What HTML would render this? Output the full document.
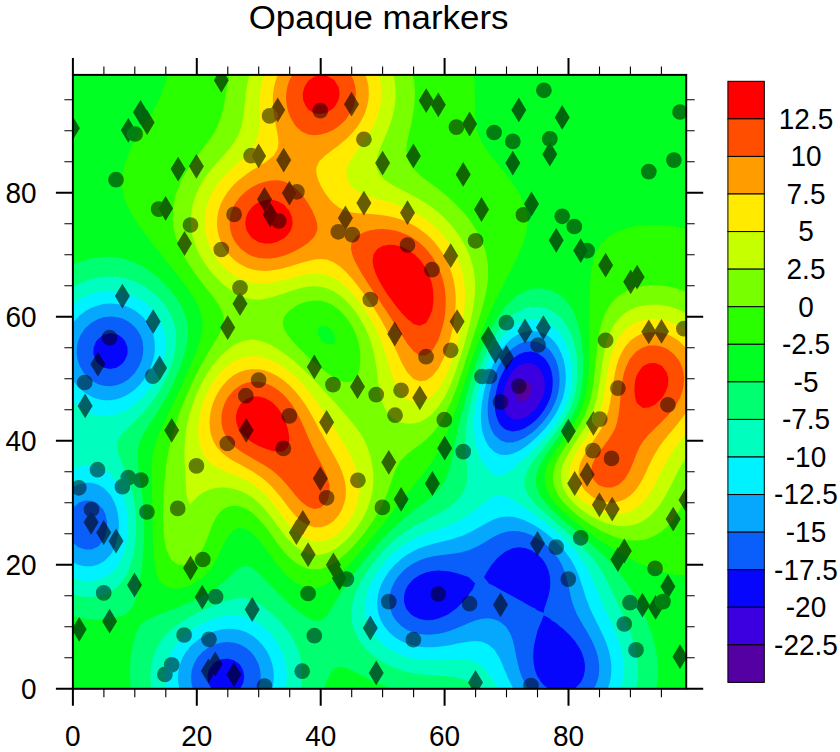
<!DOCTYPE html>
<html><head><meta charset="utf-8"><title>Opaque markers</title>
<style>html,body{margin:0;padding:0;background:#fff}svg{display:block}</style></head>
<body>
<svg width="840" height="752" viewBox="0 0 840 752">
<rect width="840" height="752" fill="#fff"/>
<g id="field" stroke="none">
<rect x="72.9" y="74.9" width="613.3" height="613.9" fill="#00ff71"/>
<path fill="#00ff23" d="M79.1 688.8L85.3 688.8L91.5 688.8L97.7 688.8L103.9 688.8L110.1 688.8L116.3 688.8L122.5 688.8L128.7 688.8L130.9 688.8L130.3 682.6L129.9 676.4L129.9 670.2L130.2 664.0L130.7 657.8L131.5 651.6L132.7 645.4L134.2 639.2L134.8 637.1L136.2 633.0L139.2 626.8L141.0 624.6L145.6 620.6L147.2 619.7L153.4 616.7L159.0 614.4L159.6 614.2L165.8 611.8L172.0 609.5L175.3 608.2L178.2 607.1L184.4 604.5L190.3 602.0L190.6 601.9L196.8 598.9L202.8 595.8L203.0 595.7L209.2 592.0L213.2 589.6L215.4 587.9L221.5 583.4L221.6 583.3L227.8 577.9L228.7 577.2L234.0 572.1L235.6 571.0L240.2 567.3L246.4 565.8L252.6 568.1L255.9 571.0L258.7 573.1L262.5 577.2L264.9 579.5L268.4 583.4L271.1 586.1L274.4 589.6L277.3 592.5L280.6 595.8L283.5 598.6L287.3 602.0L289.7 604.2L294.5 608.2L295.9 609.4L302.1 614.1L302.6 614.4L308.3 618.1L314.3 620.6L314.5 620.7L320.7 620.6L320.7 620.6L326.9 615.8L327.7 614.4L331.7 608.2L333.1 606.3L335.3 602.0L339.2 595.8L339.3 595.7L343.0 589.6L345.5 586.1L347.1 583.4L351.5 577.2L351.7 577.0L356.0 571.0L357.9 568.6L360.7 564.8L364.1 560.6L365.7 558.6L370.3 553.0L370.8 552.4L376.1 546.2L376.5 545.7L381.6 540.0L382.6 538.8L387.5 533.8L388.8 532.3L393.7 527.6L395.0 526.2L400.4 521.4L401.2 520.5L407.4 515.3L407.6 515.2L413.6 510.4L415.7 509.0L419.8 505.7L424.0 502.8L426.0 501.1L431.7 496.6L432.2 496.1L438.1 490.4L438.4 490.0L442.7 484.2L444.6 480.9L446.1 478.0L448.4 471.8L450.2 465.6L450.8 463.3L451.6 459.4L452.8 453.2L454.0 447.0L455.2 440.8L456.6 434.6L457.0 433.0L458.0 428.4L459.4 422.2L460.9 416.0L462.6 409.8L463.2 407.6L464.2 403.6L465.9 397.4L467.6 391.2L469.4 385.3L469.5 385.0L471.3 378.7L473.3 372.5L475.3 366.3L475.6 365.6L477.4 360.1L479.7 353.9L481.8 348.6L482.1 347.7L484.8 341.5L487.5 335.3L488.0 334.4L490.7 329.1L494.0 322.9L494.2 322.7L497.9 316.7L500.4 312.9L502.3 310.5L506.5 305.1L507.4 304.3L512.7 299.0L514.0 298.1L518.9 294.3L523.7 291.9L525.1 291.1L531.3 289.1L537.5 288.3L543.7 288.6L549.9 290.0L554.2 291.9L556.1 292.7L562.3 297.0L563.4 298.1L568.5 303.7L568.9 304.3L572.7 310.5L574.7 314.5L575.6 316.7L577.7 322.9L579.4 329.1L580.6 335.3L580.9 336.8L581.6 341.5L582.3 347.7L582.8 353.9L583.1 360.1L583.2 366.3L583.1 372.5L582.7 378.7L582.0 385.0L580.9 391.2L580.9 391.2L579.5 397.4L577.6 403.6L575.1 409.8L574.7 410.7L572.2 416.0L568.7 422.2L568.5 422.5L564.7 428.4L562.3 431.9L560.4 434.6L556.1 440.4L555.9 440.8L551.3 447.0L549.9 448.9L546.8 453.2L543.7 458.1L542.8 459.4L539.5 465.6L537.5 470.7L537.1 471.8L535.7 478.0L535.9 484.2L537.5 490.0L537.6 490.4L540.7 496.6L543.7 500.5L545.3 502.8L549.9 507.7L551.0 509.0L556.1 513.8L557.5 515.2L562.3 519.4L564.6 521.4L568.5 524.8L571.9 527.6L574.7 530.0L579.2 533.8L580.9 535.3L586.5 540.0L587.1 540.5L593.3 546.0L593.5 546.2L599.5 551.7L600.3 552.4L605.7 557.7L606.7 558.6L611.9 564.2L612.5 564.8L617.8 571.0L618.1 571.3L622.7 577.2L624.3 579.5L627.1 583.4L630.4 588.8L631.0 589.6L634.7 595.8L636.6 599.6L638.0 602.0L641.2 608.2L642.8 611.9L644.1 614.4L646.8 620.6L649.0 626.5L649.1 626.8L651.4 633.0L653.3 639.2L654.8 645.4L655.2 647.6L656.1 651.6L657.1 657.8L657.6 664.0L657.8 670.2L657.7 676.4L657.1 682.6L656.1 688.8L661.4 688.8L667.6 688.8L673.8 688.8L680.0 688.8L686.2 688.8L686.2 682.6L686.2 676.4L686.2 670.2L686.2 664.0L686.2 657.8L686.2 651.6L686.2 645.4L686.2 639.2L686.2 633.0L686.2 626.8L686.2 620.6L686.2 614.4L686.2 608.2L686.2 602.0L686.2 595.8L686.2 589.6L686.2 583.4L686.2 577.2L686.2 571.0L686.2 564.8L686.2 558.6L686.2 552.4L686.2 546.2L686.2 540.0L686.2 533.8L686.2 527.6L686.2 521.4L686.2 515.2L686.2 509.0L686.2 502.8L686.2 496.6L686.2 490.4L686.2 484.2L686.2 478.0L686.2 471.8L686.2 465.6L686.2 459.4L686.2 453.2L686.2 447.0L686.2 440.8L686.2 434.6L686.2 428.4L686.2 422.2L686.2 416.0L686.2 409.8L686.2 403.6L686.2 397.4L686.2 391.2L686.2 385.0L686.2 378.7L686.2 372.5L686.2 366.3L686.2 360.1L686.2 353.9L686.2 347.7L686.2 341.5L686.2 335.3L686.2 329.1L686.2 322.9L686.2 316.7L686.2 310.5L686.2 304.3L686.2 298.1L686.2 291.9L686.2 285.7L686.2 279.5L686.2 273.3L686.2 267.1L686.2 260.9L686.2 254.7L686.2 248.5L686.2 242.3L686.2 236.1L686.2 229.9L686.2 223.7L686.2 217.5L686.2 211.3L686.2 205.1L686.2 198.9L686.2 192.7L686.2 186.5L686.2 180.3L686.2 174.1L686.2 167.9L686.2 161.7L686.2 155.5L686.2 149.3L686.2 143.1L686.2 136.9L686.2 130.7L686.2 124.5L686.2 118.3L686.2 112.1L686.2 105.9L686.2 99.7L686.2 93.5L686.2 87.3L686.2 81.1L686.2 74.9L680.0 74.9L673.8 74.9L667.6 74.9L661.4 74.9L655.2 74.9L649.0 74.9L642.8 74.9L636.6 74.9L630.4 74.9L624.3 74.9L618.1 74.9L611.9 74.9L605.7 74.9L599.5 74.9L593.3 74.9L587.1 74.9L580.9 74.9L574.7 74.9L568.5 74.9L562.3 74.9L556.1 74.9L549.9 74.9L543.7 74.9L537.5 74.9L531.3 74.9L525.1 74.9L518.9 74.9L512.7 74.9L506.5 74.9L500.4 74.9L494.2 74.9L488.0 74.9L481.8 74.9L475.6 74.9L469.4 74.9L463.2 74.9L457.0 74.9L450.8 74.9L444.6 74.9L438.4 74.9L432.2 74.9L426.0 74.9L419.8 74.9L413.6 74.9L407.4 74.9L401.2 74.9L395.0 74.9L388.8 74.9L382.6 74.9L376.5 74.9L370.3 74.9L364.1 74.9L357.9 74.9L351.7 74.9L345.5 74.9L339.3 74.9L333.1 74.9L326.9 74.9L320.7 74.9L314.5 74.9L308.3 74.9L302.1 74.9L295.9 74.9L289.7 74.9L283.5 74.9L277.3 74.9L271.1 74.9L264.9 74.9L258.7 74.9L252.6 74.9L246.4 74.9L240.2 74.9L234.0 74.9L227.8 74.9L221.6 74.9L215.4 74.9L209.2 74.9L203.0 74.9L196.8 74.9L190.6 74.9L184.4 74.9L178.2 74.9L172.0 74.9L165.8 74.9L159.6 74.9L153.4 74.9L147.2 74.9L141.0 74.9L134.8 74.9L128.7 74.9L122.5 74.9L116.3 74.9L110.1 74.9L103.9 74.9L97.7 74.9L91.5 74.9L85.3 74.9L79.1 74.9L72.9 74.9L72.9 81.1L72.9 87.3L72.9 93.5L72.9 99.7L72.9 105.9L72.9 112.1L72.9 118.3L72.9 124.5L72.9 130.7L72.9 136.9L72.9 143.1L72.9 149.3L72.9 155.5L72.9 161.7L72.9 167.9L72.9 174.1L72.9 180.3L72.9 186.5L72.9 192.7L72.9 198.9L72.9 205.1L72.9 211.3L72.9 217.5L72.9 223.7L72.9 229.9L72.9 236.1L72.9 242.3L72.9 248.5L72.9 254.7L72.9 260.9L72.9 264.2L79.1 261.8L82.0 260.9L85.3 259.8L91.5 258.3L97.7 257.3L103.9 256.8L110.1 256.8L116.3 257.4L122.5 258.5L128.7 260.2L130.3 260.9L134.8 262.5L141.0 265.6L143.5 267.1L147.2 269.3L152.7 273.3L153.4 273.9L159.6 279.1L160.1 279.5L165.8 285.2L166.3 285.7L171.7 291.9L172.0 292.3L176.4 298.1L178.2 301.0L180.3 304.3L183.4 310.5L184.4 313.1L185.7 316.7L187.3 322.9L188.0 329.1L187.9 335.3L187.3 341.5L186.1 347.7L184.5 353.9L184.4 354.2L182.6 360.1L180.4 366.3L178.2 371.9L178.0 372.5L175.3 378.7L172.5 385.0L172.0 385.9L169.4 391.2L166.1 397.4L165.8 397.9L162.6 403.6L159.6 408.6L158.9 409.8L154.9 416.0L153.4 418.3L150.8 422.2L147.2 427.8L146.8 428.4L143.1 434.6L141.0 439.3L140.3 440.8L138.4 447.0L137.6 453.2L137.5 459.4L138.0 465.6L138.9 471.8L139.8 478.0L140.8 484.2L141.0 485.9L141.7 490.4L142.4 496.6L143.0 502.8L143.5 509.0L143.8 515.2L144.0 521.4L144.1 527.6L144.1 533.8L143.9 540.0L143.6 546.2L143.3 552.4L142.7 558.6L142.1 564.8L141.3 571.0L141.0 573.2L140.4 577.2L139.4 583.4L138.1 589.6L136.6 595.8L134.8 601.3L134.5 602.0L131.5 608.2L128.7 611.7L124.5 614.4L122.5 615.4L116.3 617.5L110.1 618.6L103.9 619.2L97.7 619.4L91.5 619.2L85.3 618.7L79.1 617.7L72.9 616.3L72.9 620.6L72.9 626.8L72.9 633.0L72.9 639.2L72.9 645.4L72.9 651.6L72.9 657.8L72.9 664.0L72.9 670.2L72.9 676.4L72.9 682.6L72.9 688.8ZM326.9 688.8L333.1 688.8L339.3 688.8L345.5 688.8L351.7 688.8L357.9 688.8L364.1 688.8L370.3 688.8L376.5 688.8L382.6 688.8L388.8 688.8L392.9 688.8L388.8 687.5L382.6 685.3L376.6 682.6L376.5 682.6L370.3 679.8L364.1 676.6L363.7 676.4L357.9 673.4L351.7 670.2L351.6 670.2L345.5 667.6L339.3 666.4L333.1 669.1L332.4 670.2L328.8 676.4L326.9 680.4L326.2 682.6L324.2 688.8Z"/>
<path fill="#2aff00" d="M165.8 586.6L172.0 588.5L178.2 588.5L184.4 587.2L190.6 584.9L193.6 583.4L196.8 581.6L203.0 577.2L203.0 577.2L209.2 571.0L209.2 570.9L213.7 564.8L215.4 561.8L217.2 558.6L220.1 552.4L221.6 548.9L222.9 546.2L225.9 540.0L227.8 536.4L229.9 533.8L234.0 529.8L240.2 527.8L246.4 529.3L252.6 533.3L253.0 533.8L258.7 539.7L258.9 540.0L263.7 546.2L264.9 547.8L268.1 552.4L271.1 556.6L272.6 558.6L277.3 564.8L277.3 564.8L282.6 571.0L283.5 572.1L288.8 577.2L289.7 578.0L295.9 582.7L297.2 583.4L302.1 586.0L308.3 587.9L314.5 588.2L320.7 586.9L326.9 583.9L327.5 583.4L333.1 579.6L335.7 577.2L339.3 574.3L342.4 571.0L345.5 568.1L348.5 564.8L351.7 561.5L354.2 558.6L357.9 554.5L359.7 552.4L364.1 547.2L365.0 546.2L370.1 540.0L370.3 539.8L375.2 533.8L376.5 532.2L380.2 527.6L382.6 524.4L385.2 521.4L388.8 516.6L390.0 515.2L394.9 509.0L395.0 508.7L399.8 502.8L401.2 500.7L404.7 496.6L407.4 492.9L409.6 490.4L413.6 485.4L414.7 484.2L419.8 478.0L419.8 478.0L424.8 471.8L426.0 470.2L429.3 465.6L432.2 461.5L433.4 459.4L437.1 453.2L438.4 451.0L440.3 447.0L443.3 440.8L444.6 438.2L446.1 434.6L448.6 428.4L450.8 423.1L451.1 422.2L453.3 416.0L455.6 409.8L457.0 405.9L457.7 403.6L459.7 397.4L461.8 391.2L463.2 387.0L463.8 385.0L465.7 378.7L467.7 372.5L469.4 367.5L469.7 366.3L471.7 360.1L473.8 353.9L475.6 348.9L476.0 347.7L478.2 341.5L480.5 335.3L481.8 332.1L483.0 329.1L485.5 322.9L488.0 317.1L488.1 316.7L490.9 310.5L493.7 304.3L494.2 303.3L496.8 298.1L499.7 291.9L500.4 290.4L502.9 285.7L505.9 279.5L506.5 278.1L509.2 273.3L512.2 267.1L512.7 265.8L515.5 260.9L518.3 254.7L518.9 252.8L521.1 248.5L523.5 242.3L525.1 236.4L525.3 236.1L526.7 229.9L527.4 223.7L527.2 217.5L526.0 211.3L525.1 208.4L524.2 205.1L521.8 198.9L518.9 193.6L518.5 192.7L514.9 186.5L512.7 183.4L510.7 180.3L506.5 175.0L505.9 174.1L500.9 167.9L500.4 167.3L495.9 161.7L494.2 159.7L490.8 155.5L488.0 151.8L486.2 149.3L482.1 143.1L481.8 142.4L479.4 136.9L477.4 130.7L476.1 124.5L475.6 119.7L475.5 118.3L475.2 112.1L475.1 105.9L475.1 99.7L474.9 93.5L474.7 87.3L474.3 81.1L473.6 74.9L469.4 74.9L463.2 74.9L457.0 74.9L450.8 74.9L444.6 74.9L438.4 74.9L432.2 74.9L426.0 74.9L419.8 74.9L413.6 74.9L407.4 74.9L401.2 74.9L395.0 74.9L388.8 74.9L382.6 74.9L376.5 74.9L370.3 74.9L364.1 74.9L357.9 74.9L351.7 74.9L345.5 74.9L339.3 74.9L333.1 74.9L326.9 74.9L320.7 74.9L314.5 74.9L308.3 74.9L302.1 74.9L295.9 74.9L289.7 74.9L283.5 74.9L277.3 74.9L271.1 74.9L264.9 74.9L258.7 74.9L252.6 74.9L246.4 74.9L240.2 74.9L234.0 74.9L227.8 74.9L221.6 74.9L215.4 74.9L209.2 74.9L203.0 74.9L196.8 74.9L190.6 74.9L184.4 74.9L178.2 74.9L172.0 74.9L167.3 74.9L165.8 80.9L165.8 81.1L163.6 87.3L161.4 93.5L159.6 98.2L158.9 99.7L155.8 105.9L153.4 110.6L152.5 112.1L148.8 118.3L147.2 120.9L144.9 124.5L141.2 130.7L141.0 131.0L137.3 136.9L134.8 141.4L133.9 143.1L130.5 149.3L128.7 153.8L127.8 155.5L125.3 161.7L123.5 167.9L122.5 173.4L122.3 174.1L121.6 180.3L121.8 186.5L122.5 190.3L122.8 192.7L124.3 198.9L126.9 205.1L128.7 208.0L130.0 211.3L133.8 217.5L134.8 218.9L137.7 223.7L141.0 227.9L142.2 229.9L146.9 236.1L147.2 236.5L151.5 242.3L153.4 244.5L156.3 248.5L159.6 252.4L161.3 254.7L165.8 260.3L166.3 260.9L171.2 267.1L172.0 268.1L176.1 273.3L178.2 276.0L180.9 279.5L184.4 284.1L185.6 285.7L190.0 291.9L190.6 292.9L194.0 298.1L196.8 303.2L197.4 304.3L200.2 310.5L201.9 316.7L202.6 322.9L202.4 329.1L201.4 335.3L199.7 341.5L197.6 347.7L196.8 349.8L195.3 353.9L192.8 360.1L190.6 365.1L190.1 366.3L187.4 372.5L184.6 378.7L184.4 379.2L181.8 385.0L179.0 391.2L178.2 392.9L176.1 397.4L173.2 403.6L172.0 406.3L170.3 409.8L167.3 416.0L165.8 419.3L164.4 422.2L161.5 428.4L159.6 432.8L158.8 434.6L156.4 440.8L154.5 447.0L153.4 451.5L153.1 453.2L152.1 459.4L151.7 465.6L151.5 471.8L151.5 478.0L151.6 484.2L151.8 490.4L152.0 496.6L152.2 502.8L152.3 509.0L152.5 515.2L152.6 521.4L152.7 527.6L152.8 533.8L153.0 540.0L153.2 546.2L153.4 551.8L153.5 552.4L154.0 558.6L154.7 564.8L155.9 571.0L157.9 577.2L159.6 580.8L161.8 583.4ZM323.2 341.5L320.7 339.1L318.2 335.3L317.4 329.1L320.7 326.0L326.9 326.6L330.5 329.1L333.1 332.2L334.6 335.3L334.9 341.5L333.1 344.1L326.9 343.9ZM661.4 571.6L667.6 573.3L673.8 574.5L680.0 575.1L686.2 575.2L686.2 571.0L686.2 564.8L686.2 558.6L686.2 552.4L686.2 546.2L686.2 540.0L686.2 533.8L686.2 527.6L686.2 521.4L686.2 515.2L686.2 509.0L686.2 502.8L686.2 496.6L686.2 490.4L686.2 484.2L686.2 478.0L686.2 471.8L686.2 465.6L686.2 459.4L686.2 453.2L686.2 447.0L686.2 440.8L686.2 434.6L686.2 428.4L686.2 422.2L686.2 416.0L686.2 409.8L686.2 403.6L686.2 397.4L686.2 391.2L686.2 385.0L686.2 378.7L686.2 372.5L686.2 366.3L686.2 360.1L686.2 353.9L686.2 347.7L686.2 341.5L686.2 335.3L686.2 329.1L686.2 322.9L686.2 316.7L686.2 310.5L686.2 304.3L686.2 298.1L686.2 291.9L686.2 285.7L686.2 279.5L686.2 273.3L686.2 267.1L686.2 260.9L686.2 254.7L686.2 248.5L686.2 242.3L686.2 236.1L686.2 229.9L686.2 228.9L680.0 227.4L673.8 226.3L667.6 225.6L661.4 225.1L655.2 224.9L649.0 224.9L642.8 225.3L636.6 226.0L630.4 227.2L624.3 229.0L621.9 229.9L618.1 231.2L611.9 234.3L609.5 236.1L605.7 238.8L602.4 242.3L599.5 245.9L598.0 248.5L595.1 254.7L593.3 260.4L593.2 260.9L591.9 267.1L591.0 273.3L590.4 279.5L590.0 285.7L589.8 291.9L589.6 298.1L589.5 304.3L589.5 310.5L589.5 316.7L589.5 322.9L589.6 329.1L589.6 335.3L589.6 341.5L589.6 347.7L589.5 353.9L589.4 360.1L589.2 366.3L588.8 372.5L588.2 378.7L587.5 385.0L587.1 387.1L586.4 391.2L585.0 397.4L583.2 403.6L580.9 409.7L580.9 409.8L578.1 416.0L574.7 422.2L574.7 422.2L571.0 428.4L568.5 432.1L566.8 434.6L562.5 440.8L562.3 441.0L558.1 447.0L556.1 450.1L554.0 453.2L550.4 459.4L549.9 460.6L547.5 465.6L545.5 471.8L544.7 478.0L545.1 484.2L547.0 490.4L549.9 495.9L550.3 496.6L554.8 502.8L556.1 504.2L560.5 509.0L562.3 510.7L567.2 515.2L568.5 516.3L574.5 521.4L574.7 521.5L580.9 526.4L582.5 527.6L587.1 531.1L590.9 533.8L593.3 535.6L599.5 539.9L599.7 540.0L605.7 544.1L609.2 546.2L611.9 548.1L618.1 551.8L619.2 552.4L624.3 555.5L630.2 558.6L630.4 558.7L636.6 562.0L642.8 564.7L643.0 564.8L649.0 567.4L655.2 569.7L659.8 571.0Z"/>
<path fill="#78ff00" d="M178.2 564.8L184.4 565.1L185.2 564.8L190.6 562.6L195.6 558.6L196.8 557.4L200.4 552.4L203.0 548.1L203.9 546.2L206.6 540.0L209.0 533.8L209.2 533.2L211.3 527.6L213.9 521.4L215.4 518.5L217.5 515.2L221.6 510.4L223.6 509.0L227.8 506.7L234.0 505.7L240.2 506.5L246.4 508.9L246.5 509.0L252.6 513.1L254.9 515.2L258.7 518.9L260.9 521.4L264.9 526.2L266.0 527.6L270.6 533.8L271.1 534.6L275.0 540.0L277.3 543.2L279.6 546.2L283.5 551.1L284.7 552.4L289.7 557.7L290.7 558.6L295.9 562.9L299.1 564.8L302.1 566.6L308.3 568.8L314.5 569.6L320.7 569.0L326.9 567.0L331.0 564.8L333.1 563.7L339.3 559.4L340.2 558.6L345.5 554.1L347.2 552.4L351.7 548.0L353.3 546.2L357.9 541.1L358.8 540.0L363.8 533.8L364.1 533.4L368.4 527.6L370.3 524.8L372.6 521.4L376.4 515.2L376.5 515.1L380.0 509.0L382.6 503.4L383.0 502.8L385.8 496.6L388.2 490.4L388.8 488.4L390.4 484.2L392.6 478.0L394.7 471.8L395.0 471.0L397.6 465.6L401.2 459.8L401.6 459.4L407.4 453.7L408.0 453.2L413.6 449.2L416.4 447.0L419.8 444.7L424.6 440.8L426.0 439.7L431.0 434.6L432.2 433.4L436.1 428.4L438.4 425.5L440.4 422.2L444.2 416.0L444.6 415.3L447.3 409.8L450.3 403.6L450.8 402.5L452.8 397.4L455.3 391.2L457.0 386.8L457.6 385.0L459.7 378.7L461.8 372.5L463.2 368.6L463.9 366.3L465.8 360.1L467.8 353.9L469.4 349.1L469.8 347.7L471.7 341.5L473.7 335.3L475.6 329.5L475.7 329.1L477.6 322.9L479.6 316.7L481.4 310.5L481.8 309.1L483.2 304.3L484.8 298.1L486.1 291.9L487.2 285.7L487.9 279.5L488.0 277.2L488.2 273.3L488.0 267.1L488.0 266.5L487.4 260.9L486.3 254.7L484.6 248.5L482.2 242.3L481.8 241.3L479.5 236.1L476.0 229.9L475.6 229.2L472.2 223.7L469.4 219.8L467.7 217.5L463.2 212.1L462.5 211.3L457.0 205.4L456.7 205.1L450.8 199.4L450.2 198.9L444.6 194.0L442.9 192.7L438.4 189.1L434.9 186.5L432.2 184.4L426.5 180.3L426.0 179.9L419.8 175.0L418.8 174.1L413.6 169.0L412.6 167.9L408.7 161.7L407.4 157.6L406.8 155.5L406.5 149.3L407.0 143.1L407.4 140.9L408.2 136.9L409.6 130.7L411.0 124.5L412.3 118.3L413.3 112.1L413.6 109.5L414.1 105.9L414.7 99.7L414.8 93.5L414.6 87.3L414.0 81.1L413.6 79.0L413.0 74.9L407.4 74.9L401.2 74.9L395.0 74.9L388.8 74.9L382.6 74.9L376.5 74.9L370.3 74.9L364.1 74.9L357.9 74.9L351.7 74.9L345.5 74.9L339.3 74.9L333.1 74.9L326.9 74.9L320.7 74.9L314.5 74.9L308.3 74.9L302.1 74.9L295.9 74.9L289.7 74.9L283.5 74.9L277.3 74.9L271.1 74.9L264.9 74.9L258.7 74.9L252.6 74.9L246.4 74.9L240.2 74.9L234.0 74.9L229.6 74.9L228.2 81.1L227.8 83.6L227.0 87.3L225.8 93.5L224.8 99.7L223.7 105.9L222.4 112.1L221.6 115.1L220.6 118.3L218.2 124.5L215.4 130.5L215.3 130.7L211.4 136.9L209.2 140.1L207.0 143.1L203.0 148.3L202.2 149.3L197.4 155.5L196.8 156.3L192.8 161.7L190.6 164.9L188.5 167.9L184.8 174.1L184.4 174.9L181.5 180.3L178.8 186.5L178.2 188.2L176.5 192.7L174.7 198.9L173.6 205.1L172.9 211.3L172.8 217.5L173.1 223.7L174.0 229.9L175.5 236.1L177.6 242.3L178.2 243.7L180.1 248.5L183.2 254.7L184.4 256.8L186.7 260.9L190.6 267.1L190.7 267.1L194.9 273.3L196.8 275.9L199.5 279.5L203.0 284.1L204.3 285.7L209.1 291.9L209.2 292.0L214.0 298.1L215.4 300.3L218.4 304.3L221.6 310.4L221.7 310.5L223.7 316.7L223.6 322.9L221.6 329.1L221.6 329.2L218.7 335.3L215.4 340.7L215.0 341.5L211.2 347.7L209.2 350.8L207.5 353.9L203.9 360.1L203.0 361.6L200.5 366.3L197.2 372.5L196.8 373.3L194.1 378.7L191.2 385.0L190.6 386.2L188.4 391.2L185.7 397.4L184.4 400.7L183.2 403.6L180.8 409.8L178.5 416.0L178.2 417.0L176.4 422.2L174.4 428.4L172.6 434.6L172.0 436.8L170.9 440.8L169.5 447.0L168.2 453.2L167.1 459.4L166.2 465.6L165.8 468.1L165.4 471.8L164.8 478.0L164.3 484.2L163.8 490.4L163.5 496.6L163.2 502.8L163.1 509.0L163.0 515.2L163.1 521.4L163.4 527.6L163.8 533.8L164.5 540.0L165.6 546.2L165.8 547.3L167.6 552.4L170.7 558.6L172.0 560.6L178.2 564.8ZM336.3 378.7L333.1 377.1L326.9 372.8L326.6 372.5L320.7 367.9L318.9 366.3L314.5 362.6L311.8 360.1L308.3 356.9L305.1 353.9L302.1 351.0L298.7 347.7L295.9 344.7L292.8 341.5L289.7 337.6L287.7 335.3L284.1 329.1L283.5 326.6L282.6 322.9L283.5 319.0L284.1 316.7L289.2 310.5L289.7 310.2L295.9 306.0L299.0 304.3L302.1 303.0L308.3 301.3L314.5 300.5L320.7 300.8L326.9 302.4L331.0 304.3L333.1 305.4L339.3 310.0L339.9 310.5L345.5 316.4L345.8 316.7L350.1 322.9L351.7 325.5L353.6 329.1L356.3 335.3L357.9 340.0L358.3 341.5L359.6 347.7L360.3 353.9L360.4 360.1L359.8 366.3L358.4 372.5L357.9 374.0L354.6 378.7L351.7 381.4L345.5 382.2L339.3 380.4ZM630.4 540.4L636.6 540.6L642.0 540.0L642.8 539.9L649.0 538.3L655.2 535.5L658.1 533.8L661.4 531.4L665.9 527.6L667.6 525.9L671.6 521.4L673.8 518.5L676.2 515.2L680.0 509.1L680.1 509.0L683.7 502.8L686.2 497.9L686.2 496.6L686.2 490.4L686.2 484.2L686.2 478.0L686.2 471.8L686.2 465.6L686.2 459.4L686.2 453.2L686.2 447.0L686.2 440.8L686.2 434.6L686.2 428.4L686.2 422.2L686.2 416.0L686.2 409.8L686.2 403.6L686.2 397.4L686.2 391.2L686.2 385.0L686.2 378.7L686.2 372.5L686.2 366.3L686.2 360.1L686.2 353.9L686.2 347.7L686.2 341.5L686.2 335.3L686.2 329.1L686.2 322.9L686.2 316.7L686.2 310.5L686.2 304.3L686.2 298.1L686.2 292.0L686.0 291.9L680.0 289.5L673.8 287.7L667.6 286.4L662.6 285.7L661.4 285.6L655.2 285.1L649.0 285.3L645.0 285.7L642.8 286.0L636.6 287.2L630.4 289.1L624.8 291.9L624.3 292.2L618.1 296.3L616.1 298.1L611.9 302.4L610.5 304.3L606.6 310.5L605.7 312.2L603.7 316.7L601.6 322.9L600.0 329.1L599.5 331.6L598.8 335.3L597.8 341.5L597.1 347.7L596.4 353.9L595.8 360.1L595.3 366.3L594.7 372.5L594.0 378.7L593.3 383.8L593.1 385.0L592.1 391.2L590.8 397.4L589.0 403.6L587.1 409.1L586.8 409.8L584.2 416.0L581.0 422.2L580.9 422.4L577.4 428.4L574.7 432.5L573.4 434.6L569.2 440.8L568.5 441.7L565.0 447.0L562.3 451.3L561.1 453.2L557.7 459.4L556.1 463.2L555.1 465.6L553.4 471.8L552.8 478.0L553.6 484.2L555.6 490.4L556.1 491.2L559.1 496.6L562.3 500.7L563.9 502.8L568.5 507.5L570.0 509.0L574.7 513.1L577.3 515.2L580.9 518.0L585.7 521.4L587.1 522.4L593.3 526.3L595.6 527.6L599.5 529.9L605.7 533.0L607.6 533.8L611.9 535.7L618.1 537.9L624.3 539.4L628.1 540.0Z"/>
<path fill="#c6ff00" d="M308.3 553.7L314.5 554.9L320.7 554.7L326.9 553.1L328.5 552.4L333.1 550.3L339.2 546.2L339.3 546.1L345.5 540.8L346.3 540.0L351.7 534.2L352.1 533.8L356.8 527.6L357.9 526.1L360.9 521.4L364.1 515.8L364.4 515.2L367.3 509.0L369.6 502.8L370.3 500.3L371.3 496.6L372.6 490.4L373.2 484.2L373.4 478.0L373.1 471.8L372.3 465.6L371.1 459.4L370.3 456.1L369.5 453.2L367.4 447.0L364.6 440.8L364.1 439.8L361.2 434.6L357.9 429.9L356.9 428.4L351.8 422.2L351.7 422.0L346.6 416.0L345.5 414.8L341.2 409.8L339.3 407.8L335.8 403.6L333.1 400.8L330.2 397.4L326.9 393.8L324.6 391.2L320.7 387.0L318.9 385.0L314.5 380.5L312.9 378.7L308.3 374.2L306.6 372.5L302.1 368.3L299.9 366.3L295.9 362.8L292.7 360.1L289.7 357.6L284.8 353.9L283.5 353.0L277.3 348.8L275.4 347.7L271.1 345.1L264.9 342.3L262.1 341.5L258.7 340.4L252.6 339.6L246.4 340.2L242.3 341.5L240.2 342.1L234.0 345.1L230.4 347.7L227.8 349.5L222.9 353.9L221.6 355.1L217.0 360.1L215.4 362.0L212.1 366.3L209.2 370.4L207.9 372.5L204.1 378.7L203.0 380.8L200.8 385.0L197.9 391.2L196.8 393.6L195.2 397.4L192.9 403.6L190.8 409.8L190.6 410.7L189.1 416.0L187.6 422.2L186.4 428.4L185.6 434.6L184.9 440.8L184.6 447.0L184.5 453.2L184.5 459.4L184.8 465.6L185.1 471.8L185.4 478.0L185.8 484.2L186.2 490.4L186.8 496.6L188.8 502.8L190.6 504.5L191.4 502.8L196.8 497.4L197.4 496.6L203.0 492.6L207.1 490.4L209.2 489.7L215.4 488.1L221.6 487.6L227.8 487.8L234.0 488.9L238.6 490.4L240.2 490.8L246.4 493.7L250.9 496.6L252.6 497.6L258.7 502.8L258.7 502.8L264.6 509.0L264.9 509.3L269.6 515.2L271.1 517.1L274.3 521.4L277.3 525.6L278.8 527.6L283.5 533.8L283.5 533.8L288.8 540.0L289.7 541.0L295.3 546.2L295.9 546.8L302.1 551.0L305.2 552.4ZM605.7 523.0L611.9 524.8L618.1 525.9L624.3 526.2L630.4 525.6L636.6 523.9L642.1 521.4L642.8 521.0L649.0 516.7L650.8 515.2L655.2 510.6L656.6 509.0L661.1 502.8L661.4 502.3L665.0 496.6L667.6 491.7L668.3 490.4L671.5 484.2L673.8 479.5L674.6 478.0L677.8 471.8L680.0 467.8L681.3 465.6L685.1 459.4L686.2 457.6L686.2 453.2L686.2 447.0L686.2 440.8L686.2 434.6L686.2 428.4L686.2 422.2L686.2 416.0L686.2 409.8L686.2 403.6L686.2 397.4L686.2 391.2L686.2 385.0L686.2 378.7L686.2 372.5L686.2 366.3L686.2 360.1L686.2 353.9L686.2 347.7L686.2 341.5L686.2 335.3L686.2 329.1L686.2 322.9L686.2 316.7L686.2 313.4L680.5 310.5L680.0 310.3L673.8 307.8L667.6 306.1L661.4 305.0L655.2 304.5L649.0 304.7L642.8 305.5L636.6 307.1L630.4 309.8L629.2 310.5L624.3 313.6L620.8 316.7L618.1 319.4L615.3 322.9L611.9 328.4L611.5 329.1L608.7 335.3L606.6 341.5L605.7 344.7L604.9 347.7L603.6 353.9L602.6 360.1L601.7 366.3L600.8 372.5L600.0 378.7L599.5 382.3L599.1 385.0L598.1 391.2L596.9 397.4L595.3 403.6L593.3 409.6L593.2 409.8L590.8 416.0L587.8 422.2L587.1 423.3L584.3 428.4L580.9 433.6L580.3 434.6L576.2 440.8L574.7 443.0L572.1 447.0L568.5 452.8L568.3 453.2L565.1 459.4L562.6 465.6L562.3 466.7L561.1 471.8L560.8 478.0L561.8 484.2L562.3 485.5L564.2 490.4L568.1 496.6L568.5 497.1L573.5 502.8L574.7 503.9L580.5 509.0L580.9 509.3L587.1 513.7L589.5 515.2L593.3 517.4L599.5 520.5L601.7 521.4ZM401.2 422.6L407.4 423.8L413.6 423.6L418.8 422.2L419.8 421.9L426.0 418.8L429.5 416.0L432.2 413.9L435.8 409.8L438.4 406.8L440.5 403.6L444.4 397.4L444.6 397.1L447.5 391.2L450.5 385.0L450.8 384.2L452.9 378.7L455.2 372.5L457.0 367.8L457.5 366.3L459.4 360.1L461.4 353.9L463.2 348.2L463.3 347.7L465.1 341.5L466.8 335.3L468.4 329.1L469.4 325.3L470.0 322.9L471.4 316.7L472.7 310.5L473.7 304.3L474.5 298.1L475.0 291.9L475.2 285.7L474.9 279.5L474.2 273.3L473.1 267.1L471.4 260.9L469.4 255.3L469.2 254.7L466.6 248.5L463.3 242.3L463.2 242.2L459.5 236.1L457.0 232.6L455.0 229.9L450.8 224.8L449.9 223.7L444.6 218.2L443.9 217.5L438.4 212.5L436.9 211.3L432.2 207.6L428.6 205.1L426.0 203.3L419.8 199.5L418.7 198.9L413.6 196.0L407.4 192.8L407.2 192.7L401.2 189.6L395.0 186.5L395.0 186.5L388.8 182.7L385.1 180.3L382.6 177.9L379.2 174.1L376.6 167.9L376.5 163.7L376.4 161.7L376.5 161.4L377.7 155.5L379.9 149.3L382.4 143.1L382.6 142.6L385.1 136.9L387.7 130.7L388.8 127.6L390.0 124.5L392.0 118.3L393.6 112.1L394.7 105.9L395.0 102.7L395.4 99.7L395.7 93.5L395.4 87.3L395.0 84.2L394.7 81.1L393.5 74.9L388.8 74.9L382.6 74.9L376.5 74.9L370.3 74.9L364.1 74.9L357.9 74.9L351.7 74.9L345.5 74.9L339.3 74.9L333.1 74.9L326.9 74.9L320.7 74.9L314.5 74.9L308.3 74.9L302.1 74.9L295.9 74.9L289.7 74.9L283.5 74.9L277.3 74.9L271.1 74.9L264.9 74.9L258.7 74.9L252.6 74.9L249.4 74.9L247.9 81.1L246.7 87.3L246.4 89.5L245.7 93.5L245.0 99.7L244.4 105.9L243.8 112.1L243.0 118.3L241.8 124.5L240.2 130.4L240.1 130.7L237.3 136.9L234.0 142.6L233.6 143.1L228.9 149.3L227.8 150.5L223.4 155.5L221.6 157.5L217.8 161.7L215.4 164.4L212.4 167.9L209.2 171.9L207.5 174.1L203.3 180.3L203.0 180.8L199.7 186.5L196.8 192.7L196.8 192.7L194.4 198.9L192.6 205.1L191.5 211.3L190.9 217.5L190.9 223.7L191.4 229.9L192.5 236.1L194.3 242.3L196.6 248.5L196.8 248.9L199.5 254.7L203.0 260.7L203.1 260.9L207.4 267.1L209.2 269.5L212.3 273.3L215.4 276.8L218.1 279.5L221.6 282.9L225.0 285.7L227.8 288.1L233.4 291.9L234.0 292.3L240.2 295.9L246.4 298.1L246.6 298.1L252.6 299.5L258.7 299.7L264.9 298.9L267.8 298.1L271.1 297.5L277.3 295.6L283.5 293.5L287.8 291.9L289.7 291.3L295.9 289.4L302.1 287.7L308.3 286.6L314.5 286.2L320.7 286.7L326.9 288.2L333.1 291.0L334.6 291.9L339.3 295.0L343.0 298.1L345.5 300.3L349.3 304.3L351.7 307.0L354.4 310.5L357.9 315.3L358.8 316.7L362.5 322.9L364.1 325.9L365.7 329.1L368.4 335.3L370.3 340.4L370.7 341.5L372.5 347.7L374.0 353.9L375.2 360.1L376.2 366.3L376.5 368.3L377.0 372.5L377.7 378.7L378.5 385.0L379.5 391.2L380.8 397.4L382.6 403.4L382.7 403.6L385.4 409.8L388.8 414.5L390.1 416.0L395.0 419.9L400.0 422.2Z"/>
<path fill="#ffea00" d="M314.5 541.4L320.7 541.4L326.8 540.0L326.9 540.0L333.1 536.9L337.4 533.8L339.3 532.3L344.0 527.6L345.5 525.8L348.8 521.4L351.7 516.6L352.5 515.2L355.3 509.0L357.3 502.8L357.9 499.9L358.5 496.6L359.1 490.4L359.0 484.2L358.2 478.0L357.9 476.3L356.8 471.8L354.9 465.6L352.3 459.4L351.7 458.1L349.2 453.2L345.7 447.0L345.5 446.5L342.1 440.8L339.3 436.4L338.2 434.6L334.3 428.4L333.1 426.6L330.4 422.2L326.9 416.8L326.4 416.0L322.4 409.8L320.7 407.3L318.2 403.6L314.5 398.4L313.7 397.4L308.9 391.2L308.3 390.5L303.5 385.0L302.1 383.5L297.5 378.7L295.9 377.3L290.5 372.5L289.7 371.9L283.5 367.2L282.1 366.3L277.3 363.3L271.1 360.3L270.7 360.1L264.9 358.0L258.7 356.6L252.6 356.2L246.4 356.8L240.2 358.5L236.7 360.1L234.0 361.4L227.8 365.5L226.8 366.3L221.6 371.1L220.3 372.5L215.4 378.5L215.2 378.7L211.2 385.0L209.2 388.4L207.8 391.2L205.0 397.4L203.0 402.5L202.6 403.6L200.8 409.8L199.4 416.0L198.5 422.2L198.1 428.4L198.2 434.6L198.9 440.8L200.3 447.0L202.7 453.2L203.0 453.7L206.7 459.4L209.2 462.0L213.7 465.6L215.4 466.6L221.6 469.7L226.4 471.8L227.8 472.3L234.0 474.8L240.2 477.4L241.2 478.0L246.4 480.5L252.5 484.2L252.6 484.2L258.7 488.8L260.5 490.4L264.9 494.5L266.9 496.6L271.1 501.4L272.3 502.8L277.0 509.0L277.3 509.4L281.7 515.2L283.5 517.7L286.4 521.4L289.7 525.4L291.7 527.6L295.9 531.9L298.3 533.8L302.1 536.7L308.3 539.9L308.7 540.0ZM599.5 511.0L605.7 513.0L611.9 514.1L618.1 514.3L624.3 513.4L630.4 511.3L634.8 509.0L636.6 507.8L642.5 502.8L642.8 502.4L647.7 496.6L649.0 494.6L651.7 490.4L655.1 484.2L655.2 484.0L658.3 478.0L661.2 471.8L661.4 471.4L664.4 465.6L667.6 459.5L667.7 459.4L671.5 453.2L673.8 449.8L675.8 447.0L680.0 441.2L680.4 440.8L685.2 434.6L686.2 433.2L686.2 428.4L686.2 422.2L686.2 416.0L686.2 409.8L686.2 403.6L686.2 397.4L686.2 391.2L686.2 385.0L686.2 378.7L686.2 372.5L686.2 366.3L686.2 360.1L686.2 353.9L686.2 347.7L686.2 341.5L686.2 335.3L686.2 330.6L684.2 329.1L680.0 326.3L673.8 323.2L673.1 322.9L667.6 321.0L661.4 319.6L655.2 318.9L649.0 319.1L642.8 320.2L636.6 322.3L635.3 322.9L630.4 325.6L626.0 329.1L624.3 330.7L620.5 335.3L618.1 338.8L616.6 341.5L613.7 347.7L611.9 352.9L611.5 353.9L609.9 360.1L608.6 366.3L607.5 372.5L606.5 378.7L605.7 384.2L605.6 385.0L604.6 391.2L603.5 397.4L602.1 403.6L600.3 409.8L599.5 412.0L598.1 416.0L595.3 422.2L593.3 425.9L592.0 428.4L588.1 434.6L587.1 436.1L584.1 440.8L580.9 445.4L579.9 447.0L576.1 453.2L574.7 455.8L572.9 459.4L570.6 465.6L569.2 471.8L569.2 478.0L570.6 484.2L573.5 490.4L574.7 492.1L578.2 496.6L580.9 499.2L585.0 502.8L587.1 504.3L593.3 508.1L595.0 509.0ZM407.4 399.5L413.6 402.1L419.8 402.3L426.0 400.3L430.2 397.4L432.2 396.0L436.5 391.2L438.4 388.9L440.8 385.0L444.5 378.7L444.6 378.6L447.3 372.5L449.9 366.3L450.8 364.2L452.2 360.1L454.2 353.9L456.1 347.7L457.0 344.8L457.8 341.5L459.4 335.3L460.8 329.1L462.1 322.9L463.2 317.2L463.3 316.7L464.1 310.5L464.7 304.3L465.1 298.1L465.0 291.9L464.6 285.7L463.8 279.5L463.2 276.5L462.5 273.3L460.8 267.1L458.6 260.9L457.0 257.4L455.8 254.7L452.4 248.5L450.8 245.9L448.4 242.3L444.6 237.2L443.7 236.1L438.4 230.2L438.1 229.9L432.2 224.4L431.4 223.7L426.0 219.5L423.1 217.5L419.8 215.4L413.6 211.9L412.5 211.3L407.4 208.8L401.2 206.3L397.8 205.1L395.0 204.1L388.8 202.1L382.6 200.4L377.1 198.9L376.5 198.7L370.3 196.8L364.1 194.5L360.0 192.7L357.9 191.4L351.7 186.6L351.6 186.5L347.7 180.3L346.3 174.1L347.1 167.9L349.8 161.7L351.7 158.8L353.6 155.5L357.9 149.7L358.1 149.3L362.6 143.1L364.1 141.2L366.9 136.9L370.3 131.5L370.7 130.7L374.0 124.5L376.5 118.7L376.6 118.3L378.7 112.1L380.2 105.9L381.2 99.7L381.5 93.5L381.2 87.3L380.3 81.1L378.8 74.9L376.5 74.9L370.3 74.9L364.1 74.9L357.9 74.9L351.7 74.9L345.5 74.9L339.3 74.9L333.1 74.9L326.9 74.9L320.7 74.9L314.5 74.9L308.3 74.9L302.1 74.9L295.9 74.9L289.7 74.9L283.5 74.9L277.3 74.9L271.1 74.9L264.9 74.9L264.3 74.9L262.4 81.1L261.1 87.3L260.2 93.5L259.8 99.7L259.6 105.9L259.5 112.1L259.6 118.3L259.4 124.5L258.9 130.7L258.7 131.8L257.7 136.9L255.4 143.1L252.6 147.6L251.5 149.3L246.4 155.1L245.9 155.5L240.2 160.9L239.4 161.7L234.0 166.6L232.6 167.9L227.8 172.5L226.3 174.1L221.6 179.3L220.7 180.3L216.1 186.5L215.4 187.7L212.3 192.7L209.4 198.9L209.2 199.5L207.1 205.1L205.6 211.3L204.8 217.5L204.6 223.7L205.1 229.9L206.2 236.1L208.1 242.3L209.2 245.1L210.7 248.5L214.1 254.7L215.4 256.7L218.5 260.9L221.6 264.6L224.0 267.1L227.8 270.6L231.4 273.3L234.0 275.2L240.2 278.6L242.4 279.5L246.4 281.2L252.6 282.7L258.7 283.4L264.9 283.4L271.1 282.8L277.3 281.6L283.5 280.1L285.6 279.5L289.7 278.4L295.9 276.7L302.1 275.2L308.3 274.0L314.5 273.4L320.7 273.7L326.9 275.0L333.1 277.6L336.2 279.5L339.3 281.4L344.5 285.7L345.5 286.6L350.8 291.9L351.7 292.8L356.2 298.1L357.9 300.2L361.0 304.3L364.1 308.6L365.4 310.5L369.3 316.7L370.3 318.4L372.8 322.9L376.0 329.1L376.5 330.1L378.8 335.3L381.4 341.5L382.6 345.2L383.6 347.7L385.6 353.9L387.5 360.1L388.8 364.9L389.3 366.3L391.2 372.5L393.3 378.7L395.0 383.1L395.9 385.0L399.4 391.2L401.2 393.7L404.9 397.4Z"/>
<path fill="#ff9c00" d="M302.1 521.8L308.3 525.4L314.5 527.3L320.7 527.3L326.9 525.4L333.1 521.4L333.1 521.4L338.6 515.2L339.3 514.2L342.1 509.0L344.4 502.8L345.5 497.4L345.6 496.6L345.9 490.4L345.5 485.2L345.4 484.2L344.0 478.0L342.0 471.8L339.4 465.6L339.3 465.4L336.2 459.4L333.1 453.7L332.8 453.2L329.2 447.0L326.9 443.0L325.6 440.8L322.2 434.6L320.7 431.9L318.8 428.4L315.5 422.2L314.5 420.4L312.1 416.0L308.5 409.8L308.3 409.4L304.6 403.6L302.1 400.0L300.2 397.4L295.9 392.1L295.1 391.2L289.7 385.6L289.0 385.0L283.5 380.3L281.3 378.7L277.3 376.1L271.1 372.9L270.2 372.5L264.9 370.6L258.7 369.3L252.6 369.1L246.4 369.9L240.2 371.8L238.8 372.5L234.0 375.1L229.3 378.7L227.8 380.0L223.2 385.0L221.6 387.0L218.8 391.2L215.4 397.3L215.4 397.4L212.9 403.6L211.1 409.8L210.0 416.0L209.5 422.2L209.9 428.4L211.0 434.6L213.2 440.8L215.4 444.7L216.8 447.0L221.6 452.3L222.5 453.2L227.8 457.3L230.9 459.4L234.0 461.2L240.2 464.6L241.9 465.6L246.4 468.0L252.6 471.5L253.0 471.8L258.7 475.5L262.1 478.0L264.9 480.2L269.3 484.2L271.1 486.0L275.2 490.4L277.3 492.9L280.3 496.6L283.5 500.8L285.0 502.8L289.7 509.0L289.7 509.0L295.0 515.2L295.9 516.2L301.7 521.4ZM593.3 497.4L599.5 500.3L605.7 502.1L611.9 502.7L618.1 501.8L624.3 499.5L628.9 496.6L630.4 495.4L635.3 490.4L636.6 488.7L639.7 484.2L642.8 478.7L643.2 478.0L646.2 471.8L649.0 465.6L649.0 465.6L651.9 459.4L655.2 453.2L655.3 453.2L659.1 447.0L661.4 443.7L663.6 440.8L667.6 435.8L668.6 434.6L673.8 428.4L673.9 428.4L678.9 422.2L680.0 420.8L683.6 416.0L686.2 412.0L686.2 409.8L686.2 403.6L686.2 397.4L686.2 391.2L686.2 385.0L686.2 378.7L686.2 372.5L686.2 366.3L686.2 360.1L686.2 353.9L686.2 348.3L685.7 347.7L680.0 342.0L679.5 341.5L673.8 337.6L669.3 335.3L667.6 334.6L661.4 332.8L655.2 331.9L649.0 332.2L642.8 333.5L638.5 335.3L636.6 336.2L630.4 340.6L629.6 341.5L624.4 347.7L624.3 347.9L621.0 353.9L618.3 360.1L618.1 360.9L616.5 366.3L615.1 372.5L613.9 378.7L612.9 385.0L611.9 391.2L611.9 391.4L611.0 397.4L610.0 403.6L608.6 409.8L606.7 416.0L605.7 418.6L604.4 422.2L601.3 428.4L599.5 431.4L597.6 434.6L593.4 440.8L593.3 440.9L589.3 447.0L587.1 450.2L585.3 453.2L582.0 459.4L580.9 462.1L579.6 465.6L578.6 471.8L578.9 478.0L580.8 484.2L580.9 484.4L585.0 490.4L587.1 492.5L592.1 496.6ZM413.6 378.9L419.8 381.3L426.0 380.4L428.5 378.7L432.2 376.2L435.2 372.5L438.4 368.4L439.5 366.3L442.6 360.1L444.6 355.9L445.3 353.9L447.4 347.7L449.4 341.5L450.8 336.6L451.1 335.3L452.5 329.1L453.6 322.9L454.6 316.7L455.3 310.5L455.6 304.3L455.7 298.1L455.3 291.9L454.6 285.7L453.4 279.5L451.7 273.3L450.8 270.6L449.6 267.1L446.8 260.9L444.6 256.7L443.5 254.7L439.4 248.5L438.4 247.2L434.5 242.3L432.2 239.8L428.4 236.1L426.0 234.0L420.8 229.9L419.8 229.2L413.6 225.3L410.6 223.7L407.4 222.1L401.2 219.6L395.0 217.7L394.3 217.5L388.8 216.2L382.6 215.2L376.5 214.4L370.3 214.0L364.1 213.6L357.9 213.2L351.7 212.4L347.4 211.3L345.5 210.8L339.3 207.8L335.7 205.1L333.1 202.9L329.5 198.9L326.9 195.6L324.9 192.7L321.2 186.5L320.7 185.4L318.3 180.3L316.5 174.1L316.3 167.9L318.9 161.7L320.7 159.9L325.0 155.5L326.9 154.2L333.1 149.5L333.3 149.3L339.3 144.9L341.3 143.1L345.5 139.7L348.3 136.9L351.7 133.6L354.1 130.7L357.9 125.9L358.8 124.5L362.5 118.3L364.1 114.9L365.3 112.1L367.2 105.9L368.4 99.7L368.8 93.5L368.5 87.3L367.4 81.1L365.4 74.9L364.1 74.9L357.9 74.9L351.7 74.9L345.5 74.9L339.3 74.9L333.1 74.9L326.9 74.9L320.7 74.9L314.5 74.9L308.3 74.9L302.1 74.9L295.9 74.9L289.7 74.9L283.5 74.9L277.8 74.9L277.3 76.1L275.5 81.1L274.0 87.3L273.1 93.5L272.8 99.7L273.0 105.9L273.6 112.1L274.6 118.3L275.7 124.5L276.9 130.7L277.3 133.4L278.0 136.9L278.5 143.1L277.5 149.3L277.3 149.6L273.8 155.5L271.1 157.7L266.1 161.7L264.9 162.4L258.7 166.2L256.2 167.9L252.6 170.1L246.6 174.1L246.4 174.3L240.2 179.0L238.6 180.3L234.0 184.6L232.2 186.5L227.8 191.8L227.1 192.7L223.2 198.9L221.6 202.4L220.4 205.1L218.4 211.3L217.3 217.5L217.0 223.7L217.5 229.9L218.8 236.1L221.1 242.3L221.6 243.3L224.4 248.5L227.8 253.3L229.0 254.7L234.0 259.7L235.5 260.9L240.2 264.2L245.7 267.1L246.4 267.4L252.6 269.5L258.7 270.6L264.9 271.0L271.1 270.6L277.3 269.6L283.5 268.2L287.5 267.1L289.7 266.5L295.9 264.5L302.1 262.6L308.1 260.9L308.3 260.9L314.5 259.5L320.7 258.9L326.9 259.6L330.3 260.9L333.1 261.9L339.3 265.9L340.6 267.1L345.5 271.4L347.1 273.3L351.7 278.2L352.7 279.5L357.8 285.7L357.9 285.9L362.5 291.9L364.1 294.0L367.0 298.1L370.3 302.8L371.3 304.3L375.4 310.5L376.5 312.3L379.3 316.7L382.6 322.6L382.8 322.9L386.2 329.1L388.8 334.4L389.3 335.3L392.3 341.5L395.0 347.7L395.0 347.9L397.8 353.9L400.5 360.1L401.2 361.8L403.7 366.3L407.4 372.5L407.4 372.6L413.4 378.7Z"/>
<path fill="#ff4e00" d="M308.3 506.9L314.5 508.9L320.7 507.7L326.4 502.8L326.9 502.0L329.0 496.6L329.7 490.4L329.2 484.2L327.6 478.0L326.9 476.0L325.1 471.8L322.1 465.6L320.7 462.8L318.8 459.4L315.6 453.2L314.5 450.9L312.5 447.0L309.7 440.8L308.3 437.6L307.0 434.6L304.4 428.4L302.1 423.2L301.7 422.2L298.6 416.0L295.9 411.0L295.2 409.8L291.1 403.6L289.7 401.7L286.0 397.4L283.5 394.8L279.5 391.2L277.3 389.5L271.1 385.6L269.5 385.0L264.9 383.1L258.7 381.8L252.6 381.7L246.4 382.8L241.1 385.0L240.2 385.4L234.0 389.9L232.8 391.2L227.8 397.3L227.7 397.4L224.6 403.6L222.5 409.8L221.6 415.0L221.4 416.0L221.4 422.2L221.6 423.1L222.5 428.4L224.9 434.6L227.8 439.2L228.9 440.8L234.0 446.1L234.9 447.0L240.2 450.9L243.6 453.2L246.4 454.8L252.6 458.4L254.3 459.4L258.7 461.9L264.8 465.6L264.9 465.6L271.1 469.8L273.8 471.8L277.3 474.8L280.8 478.0L283.5 480.9L286.5 484.2L289.7 488.2L291.6 490.4L295.9 495.9L296.5 496.6L302.1 502.5L302.4 502.8ZM599.5 485.5L605.7 487.6L611.9 487.4L618.1 485.0L619.3 484.2L624.3 479.5L625.4 478.0L629.2 471.8L630.4 469.1L631.9 465.6L634.3 459.4L636.6 453.5L636.8 453.2L639.5 447.0L642.8 441.8L643.5 440.8L648.7 434.6L649.0 434.2L654.9 428.4L655.2 428.1L661.4 422.2L661.4 422.1L667.5 416.0L667.6 415.8L672.6 409.8L673.8 408.2L676.9 403.6L680.0 397.7L680.2 397.4L682.4 391.2L683.7 385.0L684.1 378.7L683.4 372.5L681.7 366.3L680.0 362.6L678.7 360.1L673.8 354.0L673.8 353.9L667.6 349.3L664.3 347.7L661.4 346.5L655.2 345.4L649.0 345.6L642.8 347.4L642.2 347.7L636.6 351.3L634.0 353.9L630.4 358.2L629.3 360.1L626.3 366.3L624.3 372.0L624.1 372.5L622.7 378.7L621.7 385.0L621.0 391.2L620.4 397.4L619.9 403.6L619.2 409.8L618.3 416.0L618.1 417.1L617.1 422.2L615.1 428.4L611.9 434.3L611.7 434.6L607.8 440.8L605.7 443.3L603.0 447.0L599.5 451.4L598.3 453.2L594.5 459.4L593.3 462.1L592.0 465.6L591.3 471.8L592.5 478.0L593.3 479.3L597.6 484.2ZM419.8 355.4L426.0 355.4L428.0 353.9L432.2 350.6L434.0 347.7L437.6 341.5L438.4 339.9L440.0 335.3L441.9 329.1L443.5 322.9L444.6 317.3L444.7 316.7L445.4 310.5L445.7 304.3L445.7 298.1L445.2 291.9L444.6 287.8L444.3 285.7L442.8 279.5L440.8 273.3L438.4 267.4L438.3 267.1L434.9 260.9L432.2 256.7L430.8 254.7L426.0 248.9L425.7 248.5L419.8 243.0L418.9 242.3L413.6 238.5L409.5 236.1L407.4 235.0L401.2 232.4L395.0 230.6L391.5 229.9L388.8 229.5L382.6 229.1L376.5 229.3L372.5 229.9L370.3 230.3L364.1 232.3L357.9 235.3L356.5 236.1L351.7 242.2L351.6 242.3L350.8 248.5L351.7 251.7L352.3 254.7L354.8 260.9L357.9 266.8L358.0 267.1L361.5 273.3L364.1 277.3L365.4 279.5L369.4 285.7L370.3 287.0L373.5 291.9L376.5 296.4L377.6 298.1L381.8 304.3L382.6 305.7L386.0 310.5L388.8 315.0L390.0 316.7L394.0 322.9L395.0 324.7L398.0 329.1L401.2 334.5L401.9 335.3L406.0 341.5L407.4 343.9L410.7 347.7L413.6 351.3L417.6 353.9ZM252.6 256.2L258.7 257.9L264.9 258.6L271.1 258.4L277.3 257.4L283.5 255.7L286.3 254.7L289.7 253.4L295.9 250.4L299.7 248.5L302.1 246.9L308.3 242.7L308.9 242.3L314.5 236.4L314.8 236.1L317.4 229.9L317.2 223.7L315.3 217.5L314.5 215.9L312.6 211.3L309.1 205.1L308.3 203.8L305.1 198.9L302.1 195.0L300.1 192.7L295.9 188.4L293.4 186.5L289.7 183.9L283.5 181.3L277.4 180.3L277.3 180.3L277.3 180.3L271.1 180.5L264.9 181.7L258.7 183.8L253.2 186.5L252.6 186.8L246.4 191.0L244.4 192.7L240.2 196.8L238.4 198.9L234.2 205.1L234.0 205.7L231.6 211.3L230.1 217.5L229.7 223.7L230.3 229.9L232.1 236.1L234.0 239.9L235.3 242.3L240.2 248.3L240.4 248.5L246.4 253.1L249.3 254.7ZM302.1 131.8L308.3 134.5L314.5 135.2L320.7 134.6L326.9 132.8L331.4 130.7L333.1 129.9L339.3 125.8L340.7 124.5L345.5 119.9L346.8 118.3L351.0 112.1L351.7 110.7L353.7 105.9L355.3 99.7L355.9 93.5L355.4 87.3L353.8 81.1L351.7 76.3L350.9 74.9L345.5 74.9L339.3 74.9L333.1 74.9L326.9 74.9L320.7 74.9L314.5 74.9L308.3 74.9L302.1 74.9L295.9 74.9L292.4 74.9L289.7 79.7L289.1 81.1L287.2 87.3L286.2 93.5L286.1 99.7L286.9 105.9L288.4 112.1L289.7 115.8L290.9 118.3L294.6 124.5L295.9 126.3L300.8 130.7Z"/>
<path fill="#ff0000" d="M264.9 448.5L271.1 450.4L277.3 451.7L283.5 451.4L288.0 447.0L289.3 440.8L288.9 434.6L287.7 428.4L285.8 422.2L283.5 416.8L283.1 416.0L279.2 409.8L277.3 407.4L273.5 403.6L271.1 401.6L264.9 398.1L262.5 397.4L258.7 396.5L252.6 396.6L250.3 397.4L246.4 399.0L240.9 403.6L240.2 404.5L237.4 409.8L235.9 416.0L236.3 422.2L238.3 428.4L240.2 431.3L242.6 434.6L246.4 438.1L249.8 440.8L252.6 442.5L258.7 445.9L261.3 447.0ZM642.8 407.9L649.0 407.5L655.2 404.4L656.2 403.6L661.4 398.6L662.4 397.4L666.0 391.2L667.6 386.5L668.0 385.0L668.3 378.7L667.6 375.6L666.7 372.5L662.2 366.3L661.4 365.6L655.2 362.9L649.0 363.2L642.8 366.3L642.8 366.3L638.2 372.5L636.6 375.7L635.6 378.7L634.6 385.0L634.4 391.2L635.1 397.4L636.6 402.6L637.3 403.6ZM413.6 323.9L419.8 325.8L426.0 323.0L426.1 322.9L429.7 316.7L432.1 310.5L432.2 310.2L433.1 304.3L433.5 298.1L433.2 291.9L432.4 285.7L432.2 285.1L430.7 279.5L428.3 273.3L426.0 268.7L425.1 267.1L420.8 260.9L419.8 259.7L414.8 254.7L413.6 253.7L407.4 249.5L405.5 248.5L401.2 246.7L395.0 245.1L388.8 244.8L382.6 246.1L377.9 248.5L376.5 249.9L373.4 254.7L372.6 260.9L373.5 267.1L375.6 273.3L376.5 275.3L378.5 279.5L381.9 285.7L382.6 287.0L385.8 291.9L388.8 296.5L390.1 298.1L394.6 304.3L395.0 305.0L399.7 310.5L401.2 312.6L405.3 316.7L407.4 319.1L412.5 322.9ZM264.9 243.5L271.1 243.4L275.6 242.3L277.3 241.8L283.5 238.4L286.5 236.1L289.7 232.1L291.1 229.9L292.7 223.7L292.1 217.5L289.7 211.6L289.6 211.3L284.3 205.1L283.5 204.5L277.3 201.0L271.1 199.6L264.9 200.0L258.7 202.2L254.2 205.1L252.6 206.5L248.7 211.3L246.4 216.3L245.9 217.5L245.3 223.7L246.4 229.6L246.4 229.9L250.3 236.1L252.6 238.4L258.7 242.2L259.2 242.3ZM314.5 113.4L320.7 114.1L326.9 112.7L327.9 112.1L333.1 108.4L335.2 105.9L338.6 99.7L339.3 96.0L339.6 93.5L339.3 91.0L338.6 87.3L334.9 81.1L333.1 79.3L326.9 75.8L320.7 74.9L314.5 76.6L308.3 80.7L308.0 81.1L304.3 87.3L302.7 93.5L303.1 99.7L305.6 105.9L308.3 109.4L312.0 112.1Z"/>
<path fill="#00ffbf" d="M153.4 688.8L159.6 688.8L165.8 688.8L172.0 688.8L178.2 688.8L184.4 688.8L190.6 688.8L196.8 688.8L203.0 688.8L209.2 688.8L215.4 688.8L221.6 688.8L227.8 688.8L234.0 688.8L240.2 688.8L246.4 688.8L252.6 688.8L258.7 688.8L264.9 688.8L271.1 688.8L277.3 688.8L283.5 688.8L289.7 688.8L295.9 688.8L300.6 688.8L301.6 682.6L302.0 676.4L302.0 670.2L301.5 664.0L300.5 657.8L298.8 651.6L296.3 645.4L295.9 644.7L293.2 639.2L289.7 633.8L289.2 633.0L284.5 626.8L283.5 625.7L279.0 620.6L277.3 618.8L272.7 614.4L271.1 612.9L265.4 608.2L264.9 607.8L258.7 603.5L255.7 602.0L252.6 600.3L246.4 598.5L240.2 598.0L234.0 598.7L227.8 600.3L223.0 602.0L221.6 602.4L215.4 604.8L209.2 607.5L207.8 608.2L203.0 610.3L196.8 613.3L194.8 614.4L190.6 616.6L184.4 620.1L183.5 620.6L178.2 624.1L174.4 626.8L172.0 628.8L167.4 633.0L165.8 634.8L162.1 639.2L159.6 643.1L158.2 645.4L155.3 651.6L153.4 657.1L153.2 657.8L151.7 664.0L150.8 670.2L150.5 676.4L150.7 682.6L151.4 688.8ZM475.6 687.1L477.2 688.8L481.8 688.8L488.0 688.8L494.2 688.8L500.4 688.8L506.5 688.8L512.7 688.8L518.9 688.8L525.1 688.8L531.3 688.8L537.5 688.8L543.7 688.8L549.9 688.8L556.1 688.8L562.3 688.8L568.5 688.8L574.7 688.8L580.9 688.8L587.1 688.8L593.3 688.8L599.5 688.8L605.7 688.8L611.9 688.8L618.1 688.8L624.3 688.8L630.4 688.8L635.8 688.8L636.6 684.3L637.0 682.6L637.7 676.4L638.0 670.2L637.8 664.0L637.1 657.8L636.6 655.2L636.1 651.6L634.7 645.4L632.8 639.2L630.6 633.0L630.4 632.5L628.3 626.8L625.6 620.6L624.3 617.6L622.8 614.4L620.0 608.2L618.1 604.1L617.1 602.0L614.3 595.8L611.9 590.8L611.3 589.6L608.3 583.4L605.7 578.4L605.0 577.2L601.5 571.0L599.5 568.1L597.4 564.8L593.3 559.3L592.8 558.6L587.6 552.4L587.1 551.8L581.9 546.2L580.9 545.2L575.6 540.0L574.7 539.2L568.9 533.8L568.5 533.4L562.3 528.0L561.8 527.6L556.1 522.7L554.6 521.4L549.9 517.3L547.3 515.2L543.7 511.8L540.4 509.0L537.5 506.0L534.2 502.8L531.3 499.1L529.2 496.6L525.8 490.4L525.1 487.3L524.3 484.2L524.7 478.0L525.1 477.0L526.7 471.8L530.1 465.6L531.3 463.9L534.2 459.4L537.5 455.3L539.0 453.2L543.7 447.4L544.0 447.0L549.0 440.8L549.9 439.7L553.9 434.6L556.1 431.7L558.5 428.4L562.3 422.8L562.7 422.2L566.4 416.0L568.5 411.8L569.5 409.8L572.0 403.6L574.0 397.4L574.7 394.5L575.5 391.2L576.5 385.0L577.1 378.7L577.4 372.5L577.3 366.3L576.9 360.1L576.1 353.9L575.0 347.7L574.7 346.4L573.4 341.5L571.3 335.3L568.6 329.1L568.5 328.9L564.8 322.9L562.3 319.6L559.4 316.7L556.1 313.7L550.8 310.5L549.9 310.0L543.7 307.7L537.5 306.7L531.3 306.9L525.1 308.3L520.0 310.5L518.9 310.9L512.7 314.8L510.6 316.7L506.5 320.3L504.3 322.9L500.4 327.5L499.3 329.1L495.1 335.3L494.2 336.9L491.6 341.5L488.4 347.7L488.0 348.7L485.6 353.9L483.1 360.1L481.8 363.6L480.8 366.3L478.7 372.5L476.7 378.7L475.6 382.6L474.9 385.0L473.2 391.2L471.6 397.4L470.2 403.6L469.4 407.8L468.9 409.8L467.8 416.0L466.8 422.2L466.1 428.4L465.6 434.6L465.3 440.8L465.3 447.0L465.6 453.2L466.2 459.4L466.8 465.6L467.3 471.8L467.3 478.0L466.4 484.2L464.2 490.4L463.2 492.1L460.3 496.6L457.0 500.3L454.5 502.8L450.8 505.7L446.3 509.0L444.6 510.0L438.4 513.5L435.3 515.2L432.2 516.6L426.0 519.7L422.9 521.4L419.8 522.8L413.6 526.3L411.7 527.6L407.4 530.2L402.4 533.8L401.2 534.6L395.0 539.6L394.6 540.0L388.8 545.3L387.9 546.2L382.6 551.6L382.0 552.4L376.6 558.6L376.5 558.7L371.7 564.8L370.3 566.8L367.3 571.0L364.1 576.1L363.3 577.2L359.9 583.4L357.9 587.8L356.9 589.6L354.5 595.8L352.8 602.0L351.8 608.2L351.7 610.1L351.4 614.4L351.7 618.5L351.8 620.6L353.0 626.8L355.2 633.0L357.9 638.0L358.5 639.2L362.9 645.4L364.1 646.7L368.7 651.6L370.3 653.0L376.2 657.8L376.5 658.0L382.6 662.1L386.2 664.0L388.8 665.4L395.0 668.1L401.2 670.2L401.2 670.2L407.4 672.0L413.6 673.3L419.8 674.2L426.0 674.8L432.2 675.3L438.4 675.6L444.6 675.9L450.5 676.4L450.8 676.4L457.0 677.5L463.2 679.3L469.4 682.3L469.8 682.6ZM79.1 595.9L85.3 596.7L91.5 596.8L97.7 596.2L99.2 595.8L103.9 594.6L110.1 592.0L113.8 589.6L116.3 587.8L120.6 583.4L122.5 581.2L125.1 577.2L128.3 571.0L128.7 570.1L130.6 564.8L132.4 558.6L133.8 552.4L134.8 546.2L134.8 545.5L135.5 540.0L135.9 533.8L136.1 527.6L136.0 521.4L135.7 515.2L135.1 509.0L134.8 506.7L134.3 502.8L133.2 496.6L131.7 490.4L130.0 484.2L128.7 479.8L128.0 478.0L125.6 471.8L123.1 465.6L122.5 463.8L120.4 459.4L118.2 453.2L117.1 447.0L117.9 440.8L121.4 434.6L122.5 433.6L126.9 428.4L128.7 426.9L133.3 422.2L134.8 420.9L139.6 416.0L141.0 414.6L145.4 409.8L147.2 407.8L150.6 403.6L153.4 399.9L155.1 397.4L159.2 391.2L159.6 390.4L162.7 385.0L165.8 378.8L165.9 378.7L168.6 372.5L170.9 366.3L172.0 362.9L172.9 360.1L174.5 353.9L175.5 347.7L176.1 341.5L176.1 335.3L175.4 329.1L173.9 322.9L172.0 317.9L171.6 316.7L168.4 310.5L165.8 306.6L164.2 304.3L159.6 298.9L158.9 298.1L153.4 293.0L152.1 291.9L147.2 288.2L143.2 285.7L141.0 284.4L134.8 281.5L129.3 279.5L128.7 279.3L122.5 277.7L116.3 276.7L110.1 276.4L103.9 276.7L97.7 277.5L91.5 278.9L89.5 279.5L85.3 280.8L79.1 283.4L74.8 285.7L72.9 286.8L72.9 291.9L72.9 298.1L72.9 304.3L72.9 310.5L72.9 316.7L72.9 322.9L72.9 329.1L72.9 335.3L72.9 341.5L72.9 347.7L72.9 353.9L72.9 360.1L72.9 366.3L72.9 372.5L72.9 378.7L72.9 385.0L72.9 391.2L72.9 397.4L72.9 403.6L72.9 409.8L72.9 416.0L72.9 422.2L72.9 428.4L72.9 434.6L72.9 440.8L72.9 447.0L72.9 453.2L72.9 459.4L72.9 465.6L72.9 471.8L72.9 478.0L72.9 484.2L72.9 490.4L72.9 496.6L72.9 502.8L72.9 509.0L72.9 515.2L72.9 521.4L72.9 527.6L72.9 533.8L72.9 540.0L72.9 546.2L72.9 552.4L72.9 558.6L72.9 564.8L72.9 571.0L72.9 577.2L72.9 583.4L72.9 589.6L72.9 594.4L78.8 595.8Z"/>
<path fill="#00f1ff" d="M165.8 685.7L166.2 688.8L172.0 688.8L178.2 688.8L184.4 688.8L190.6 688.8L196.8 688.8L203.0 688.8L209.2 688.8L215.4 688.8L221.6 688.8L227.8 688.8L234.0 688.8L240.2 688.8L246.4 688.8L252.6 688.8L258.7 688.8L264.9 688.8L271.1 688.8L277.3 688.8L283.5 688.8L285.4 688.8L286.4 682.6L286.8 676.4L286.6 670.2L285.7 664.0L284.1 657.8L283.5 656.3L281.8 651.6L278.7 645.4L277.3 643.1L274.8 639.2L271.1 634.6L269.7 633.0L264.9 628.2L263.3 626.8L258.7 623.3L254.2 620.6L252.6 619.6L246.4 617.1L240.2 615.7L234.0 615.2L227.8 615.6L221.6 616.7L215.4 618.5L209.6 620.6L209.2 620.7L203.0 623.5L196.8 626.8L196.7 626.8L190.6 630.7L187.5 633.0L184.4 635.6L180.6 639.2L178.2 641.9L175.4 645.4L172.0 650.8L171.6 651.6L168.7 657.8L166.8 664.0L165.8 669.4L165.7 670.2L165.2 676.4L165.4 682.6ZM500.4 688.8L506.5 688.8L512.7 688.8L518.9 688.8L525.1 688.8L531.3 688.8L537.5 688.8L543.7 688.8L549.9 688.8L556.1 688.8L562.3 688.8L568.5 688.8L574.7 688.8L580.9 688.8L587.1 688.8L593.3 688.8L599.5 688.8L605.7 688.8L611.9 688.8L618.1 688.8L621.0 688.8L622.5 682.6L623.4 676.4L623.8 670.2L623.6 664.0L622.9 657.8L621.7 651.6L620.0 645.4L618.1 639.6L617.9 639.2L615.5 633.0L612.8 626.8L611.9 624.7L610.0 620.6L607.1 614.4L605.7 611.3L604.3 608.2L601.6 602.0L599.5 596.8L599.1 595.8L596.7 589.6L594.2 583.4L593.3 581.2L591.6 577.2L588.7 571.0L587.1 568.2L585.2 564.8L581.2 558.6L580.9 558.1L576.6 552.4L574.7 550.2L571.3 546.2L568.5 543.3L565.2 540.0L562.3 537.2L558.5 533.8L556.1 531.7L551.2 527.6L549.9 526.5L543.7 521.6L543.3 521.4L537.5 517.0L534.8 515.2L531.3 512.5L526.1 509.0L525.1 508.1L518.9 503.9L516.8 502.8L512.7 499.7L506.5 496.6L506.4 496.6L500.4 494.5L494.2 496.3L493.9 496.6L488.0 500.0L484.8 502.8L481.8 504.9L476.8 509.0L475.6 509.8L469.4 514.4L468.3 515.2L463.2 518.3L457.8 521.4L457.0 521.8L450.8 524.6L444.6 527.0L443.2 527.6L438.4 529.2L432.2 531.3L426.0 533.6L425.7 533.8L419.8 536.1L413.6 539.1L412.1 540.0L407.4 542.6L402.2 546.2L401.2 546.8L395.0 551.8L394.4 552.4L388.8 557.7L388.0 558.6L382.6 564.8L382.6 564.8L378.1 571.0L376.5 573.5L374.2 577.2L371.0 583.4L370.3 585.2L368.5 589.6L366.6 595.8L365.6 602.0L365.3 608.2L365.8 614.4L367.2 620.6L369.6 626.8L370.3 628.0L373.1 633.0L376.5 637.4L378.0 639.2L382.6 643.7L384.6 645.4L388.8 648.5L394.1 651.6L395.0 652.1L401.2 654.9L407.4 657.0L410.7 657.8L413.6 658.5L419.8 659.5L426.0 660.1L432.2 660.3L438.4 660.1L444.6 659.8L450.8 659.5L457.0 659.2L463.2 659.3L469.4 660.1L475.6 662.1L478.8 664.0L481.8 666.0L485.9 670.2L488.0 672.6L490.5 676.4L494.2 682.0L494.5 682.6L498.1 688.8ZM79.1 579.9L85.3 580.9L91.5 580.8L97.7 579.8L103.9 577.5L104.4 577.2L110.1 573.6L112.9 571.0L116.3 567.3L118.0 564.8L121.4 558.6L122.5 556.3L123.9 552.4L125.6 546.2L126.8 540.0L127.6 533.8L127.9 527.6L127.9 521.4L127.4 515.2L126.5 509.0L125.2 502.8L123.4 496.6L122.5 493.9L120.9 490.4L117.7 484.2L116.3 481.6L113.4 478.0L110.1 474.0L107.3 471.8L103.9 468.9L97.7 466.1L94.9 465.6L91.5 464.8L85.3 465.1L83.7 465.6L79.1 466.6L72.9 469.2L72.9 471.8L72.9 478.0L72.9 484.2L72.9 490.4L72.9 496.6L72.9 502.8L72.9 509.0L72.9 515.2L72.9 521.4L72.9 527.6L72.9 533.8L72.9 540.0L72.9 546.2L72.9 552.4L72.9 558.6L72.9 564.8L72.9 571.0L72.9 577.2L72.9 578.0ZM494.2 474.7L500.4 476.2L506.5 473.7L508.5 471.8L512.7 469.1L516.2 465.6L518.9 463.6L523.1 459.4L525.1 457.7L529.6 453.2L531.3 451.6L535.7 447.0L537.5 445.2L541.6 440.8L543.7 438.5L547.0 434.6L549.9 431.2L552.1 428.4L556.1 422.9L556.6 422.2L560.5 416.0L562.3 412.6L563.8 409.8L566.5 403.6L568.5 397.5L568.6 397.4L570.0 391.2L571.0 385.0L571.5 378.7L571.6 372.5L571.2 366.3L570.4 360.1L569.1 353.9L568.5 351.7L567.2 347.7L564.6 341.5L562.3 337.3L561.0 335.3L556.1 329.4L555.8 329.1L549.9 324.5L546.7 322.9L543.7 321.5L537.5 320.0L531.3 319.8L525.1 320.9L519.9 322.9L518.9 323.3L512.7 327.0L510.3 329.1L506.5 332.4L504.0 335.3L500.4 339.8L499.2 341.5L495.2 347.7L494.2 349.5L491.9 353.9L488.9 360.1L488.0 362.3L486.3 366.3L484.1 372.5L482.0 378.7L481.8 379.6L480.2 385.0L478.6 391.2L477.2 397.4L476.0 403.6L475.6 406.5L475.1 409.8L474.4 416.0L473.9 422.2L473.9 428.4L474.2 434.6L475.0 440.8L475.6 443.7L476.4 447.0L478.5 453.2L481.3 459.4L481.8 460.4L485.3 465.6L488.0 469.3L491.1 471.8ZM103.9 416.3L107.8 416.0L110.1 415.8L116.3 414.3L122.5 411.8L126.0 409.8L128.7 408.4L134.8 404.0L135.4 403.6L141.0 398.6L142.2 397.4L147.2 391.7L147.7 391.2L152.1 385.0L153.4 382.9L155.8 378.7L158.9 372.5L159.6 370.7L161.3 366.3L163.2 360.1L164.6 353.9L165.3 347.7L165.4 341.5L164.8 335.3L163.4 329.1L161.1 322.9L159.6 320.0L157.8 316.7L153.4 310.7L153.3 310.5L147.2 304.5L147.1 304.3L141.0 299.8L138.1 298.1L134.8 296.3L128.7 293.8L122.5 292.1L121.4 291.9L116.3 291.1L110.1 290.8L103.9 291.2L99.5 291.9L97.7 292.3L91.5 294.0L85.3 296.5L82.3 298.1L79.1 300.0L73.1 304.3L72.9 304.5L72.9 310.5L72.9 316.7L72.9 322.9L72.9 329.1L72.9 335.3L72.9 341.5L72.9 347.7L72.9 353.9L72.9 360.1L72.9 366.3L72.9 372.5L72.9 378.7L72.9 385.0L72.9 391.2L72.9 397.4L72.9 401.3L75.5 403.6L79.1 406.7L83.7 409.8L85.3 410.9L91.5 413.9L97.7 415.7L100.6 416.0Z"/>
<path fill="#05a8fc" d="M184.4 688.8L190.6 688.8L196.8 688.8L203.0 688.8L209.2 688.8L215.4 688.8L221.6 688.8L227.8 688.8L234.0 688.8L240.2 688.8L246.4 688.8L252.6 688.8L258.7 688.8L264.9 688.8L271.1 688.8L272.2 688.8L273.4 682.6L273.8 676.4L273.4 670.2L272.2 664.0L271.1 660.8L270.1 657.8L267.1 651.6L264.9 648.3L262.8 645.4L258.7 640.9L256.8 639.2L252.6 635.8L247.6 633.0L246.4 632.3L240.2 630.1L234.0 629.0L227.8 628.8L221.6 629.5L215.4 631.0L210.1 633.0L209.2 633.3L203.0 636.5L198.8 639.2L196.8 640.7L191.4 645.4L190.6 646.3L186.3 651.6L184.4 654.6L182.6 657.8L180.1 664.0L178.6 670.2L178.2 674.3L178.0 676.4L178.2 681.6L178.3 682.6L179.3 688.8ZM512.7 687.5L513.4 688.8L518.9 688.8L525.1 688.8L531.3 688.8L537.5 688.8L543.7 688.8L549.9 688.8L556.1 688.8L562.3 688.8L568.5 688.8L574.7 688.8L580.9 688.8L587.1 688.8L593.3 688.8L599.5 688.8L605.7 688.8L607.7 688.8L609.7 682.6L610.9 676.4L611.4 670.2L611.2 664.0L610.4 657.8L609.0 651.6L607.1 645.4L605.7 641.6L604.7 639.2L601.9 633.0L599.5 628.0L598.9 626.8L595.7 620.6L593.3 615.5L592.7 614.4L589.9 608.2L587.5 602.0L587.1 600.9L585.3 595.8L583.3 589.6L581.4 583.4L580.9 581.9L579.3 577.2L576.8 571.0L574.7 566.6L573.8 564.8L570.2 558.6L568.5 556.2L565.7 552.4L562.3 548.3L560.4 546.2L556.1 541.8L554.1 540.0L549.9 536.3L546.7 533.8L543.7 531.5L538.0 527.6L537.5 527.2L531.3 523.6L526.7 521.4L525.1 520.6L518.9 518.2L512.7 516.8L506.5 516.4L500.4 517.2L494.2 519.2L489.7 521.4L488.0 522.2L481.8 525.7L478.6 527.6L475.6 529.3L469.4 532.6L466.8 533.8L463.2 535.4L457.0 537.6L450.8 539.5L448.8 540.0L444.6 541.0L438.4 542.5L432.2 544.0L426.0 545.9L425.2 546.2L419.8 548.1L413.6 550.9L411.1 552.4L407.4 554.5L401.7 558.6L401.2 558.9L395.0 564.5L394.8 564.8L389.4 571.0L388.8 571.7L385.2 577.2L382.6 581.8L381.8 583.4L379.4 589.6L377.9 595.8L377.2 602.0L377.5 608.2L378.7 614.4L381.0 620.6L382.6 623.5L384.7 626.8L388.8 631.8L390.0 633.0L395.0 637.2L398.1 639.2L401.2 641.0L407.4 643.7L412.9 645.4L413.6 645.6L419.8 646.8L426.0 647.3L432.2 647.3L438.4 646.8L444.6 646.0L448.1 645.4L450.8 644.9L457.0 643.6L463.2 642.4L469.4 641.4L475.6 641.1L481.8 641.8L488.0 644.2L489.5 645.4L494.2 649.6L495.6 651.6L499.3 657.8L500.4 659.8L502.2 664.0L504.7 670.2L506.5 674.3L507.4 676.4L510.2 682.6ZM79.1 565.1L85.3 566.3L91.5 566.2L97.3 564.8L97.7 564.7L103.9 561.3L106.9 558.6L110.1 555.2L112.0 552.4L115.1 546.2L116.3 543.1L117.2 540.0L118.3 533.8L118.9 527.6L118.8 521.4L118.1 515.2L116.8 509.0L116.3 507.3L114.5 502.8L111.3 496.6L110.1 494.6L106.3 490.4L103.9 488.1L97.7 484.4L96.7 484.2L91.5 482.8L85.3 482.8L79.1 484.2L79.1 484.2L72.9 487.1L72.9 490.4L72.9 496.6L72.9 502.8L72.9 509.0L72.9 515.2L72.9 521.4L72.9 527.6L72.9 533.8L72.9 540.0L72.9 546.2L72.9 552.4L72.9 558.6L72.9 562.5L78.4 564.8ZM500.4 454.7L506.5 455.1L512.7 453.7L513.7 453.2L518.9 450.9L525.0 447.0L525.1 446.9L531.3 442.1L532.7 440.8L537.5 436.5L539.3 434.6L543.7 430.0L545.1 428.4L549.9 422.5L550.1 422.2L554.3 416.0L556.1 413.0L557.9 409.8L560.7 403.6L562.3 399.2L562.9 397.4L564.4 391.2L565.4 385.0L565.8 378.7L565.6 372.5L564.9 366.3L563.6 360.1L562.3 356.0L561.5 353.9L558.5 347.7L556.1 344.0L554.1 341.5L549.9 337.3L546.9 335.3L543.7 333.4L537.5 331.4L531.3 330.8L525.1 331.7L518.9 333.9L516.7 335.3L512.7 337.8L508.5 341.5L506.5 343.4L503.0 347.7L500.4 351.2L498.7 353.9L495.1 360.1L494.2 362.0L492.2 366.3L489.7 372.5L488.0 377.3L487.5 378.7L485.7 385.0L484.1 391.2L482.8 397.4L481.8 403.6L481.8 404.3L481.2 409.8L480.9 416.0L481.1 422.2L481.8 428.2L481.8 428.4L483.2 434.6L485.6 440.8L488.0 445.2L489.4 447.0L494.2 451.7L497.1 453.2ZM97.7 399.0L103.9 400.2L110.1 400.2L116.3 399.2L121.9 397.4L122.5 397.2L128.7 394.0L132.6 391.2L134.8 389.4L139.4 385.0L141.0 383.2L144.4 378.7L147.2 374.3L148.2 372.5L151.1 366.3L153.1 360.1L153.4 358.8L154.4 353.9L154.9 347.7L154.6 341.5L153.4 335.3L153.4 335.3L151.2 329.1L147.8 322.9L147.2 322.2L142.7 316.7L141.0 315.2L135.0 310.5L134.8 310.4L128.7 307.2L122.5 305.0L118.8 304.3L116.3 303.9L110.1 303.5L103.9 304.1L102.6 304.3L97.7 305.5L91.5 307.8L86.4 310.5L85.3 311.2L79.1 316.0L78.4 316.7L72.9 322.9L72.9 323.0L72.9 329.1L72.9 335.3L72.9 341.5L72.9 347.7L72.9 353.9L72.9 360.1L72.9 366.3L72.9 372.5L72.9 378.7L72.9 380.5L76.4 385.0L79.1 387.8L82.9 391.2L85.3 393.0L91.5 396.6L93.4 397.4Z"/>
<path fill="#0a5ffa" d="M196.8 688.8L203.0 688.8L209.2 688.8L215.4 688.8L221.6 688.8L227.8 688.8L234.0 688.8L240.2 688.8L246.4 688.8L252.6 688.8L258.6 688.8L258.7 688.4L260.2 682.6L260.7 676.4L260.2 670.2L258.7 664.9L258.5 664.0L255.3 657.8L252.6 654.0L250.4 651.6L246.4 648.1L241.8 645.4L240.2 644.5L234.0 642.7L227.8 642.0L221.6 642.6L215.4 644.2L212.6 645.4L209.2 647.1L203.0 651.5L202.9 651.6L197.3 657.8L196.8 658.6L193.9 664.0L191.8 670.2L191.0 676.4L191.3 682.6L192.9 688.8ZM525.1 683.7L528.2 688.8L531.3 688.8L537.5 688.8L543.7 688.8L549.9 688.8L556.1 688.8L562.3 688.8L568.5 688.8L574.7 688.8L580.9 688.8L587.1 688.8L593.3 688.8L594.0 688.8L596.8 682.6L598.5 676.4L599.2 670.2L599.0 664.0L598.1 657.8L596.4 651.6L594.1 645.4L593.3 643.6L591.1 639.2L587.7 633.0L587.1 631.8L584.0 626.8L580.9 621.4L580.4 620.6L577.0 614.4L574.7 609.0L574.3 608.2L572.1 602.0L570.6 595.8L569.3 589.6L568.5 585.7L568.0 583.4L566.4 577.2L564.4 571.0L562.3 565.9L561.8 564.8L558.2 558.6L556.1 555.7L553.6 552.4L549.9 548.4L547.6 546.2L543.7 542.9L539.7 540.0L537.5 538.5L531.3 535.1L527.9 533.8L525.1 532.7L518.9 531.3L512.7 531.0L506.5 531.7L500.4 533.6L500.0 533.8L494.2 536.6L488.3 540.0L488.0 540.2L481.8 544.0L477.6 546.2L475.6 547.3L469.4 550.0L463.2 551.8L460.4 552.4L457.0 553.1L450.8 554.0L444.6 554.7L438.4 555.5L432.2 556.6L426.0 558.1L424.6 558.6L419.8 560.3L413.6 563.3L411.2 564.8L407.4 567.3L403.1 571.0L401.2 572.9L397.6 577.2L395.0 581.1L393.7 583.4L391.1 589.6L389.6 595.8L389.2 602.0L390.1 608.2L392.2 614.4L395.0 619.2L396.0 620.6L401.2 625.9L402.4 626.8L407.4 629.9L413.6 632.6L415.1 633.0L419.8 634.1L426.0 634.7L432.2 634.6L438.4 633.8L442.2 633.0L444.6 632.4L450.8 630.4L457.0 628.1L460.3 626.8L463.2 625.5L469.4 622.8L475.4 620.6L475.6 620.5L481.8 618.8L488.0 618.3L494.2 619.2L497.5 620.6L500.4 622.0L506.0 626.8L506.5 627.4L510.0 633.0L512.5 639.2L512.7 640.0L514.1 645.4L515.3 651.6L516.5 657.8L517.9 664.0L518.9 667.9L519.5 670.2L521.7 676.4L524.5 682.6ZM79.1 547.6L85.3 549.6L91.5 549.4L97.7 546.8L98.4 546.2L103.7 540.0L103.9 539.7L106.1 533.8L107.1 527.6L107.0 521.4L105.6 515.2L103.9 510.8L102.7 509.0L97.7 503.4L96.5 502.8L91.5 500.7L85.3 500.5L79.1 502.5L78.8 502.8L72.9 507.7L72.9 509.0L72.9 515.2L72.9 521.4L72.9 527.6L72.9 533.8L72.9 540.0L72.9 542.5L77.0 546.2ZM506.5 442.5L512.7 442.4L518.2 440.8L518.9 440.6L525.1 437.5L529.3 434.6L531.3 433.2L536.9 428.4L537.5 427.8L542.8 422.2L543.7 421.1L547.6 416.0L549.9 412.5L551.6 409.8L554.6 403.6L556.1 399.8L557.0 397.4L558.5 391.2L559.4 385.0L559.6 378.7L559.1 372.5L557.9 366.3L556.1 360.6L555.9 360.1L552.5 353.9L549.9 350.3L547.2 347.7L543.7 344.9L537.5 342.1L534.4 341.5L531.3 341.1L527.0 341.5L525.1 341.7L518.9 344.0L513.2 347.7L512.7 348.0L506.8 353.9L506.5 354.2L502.3 360.1L500.4 363.1L498.6 366.3L495.7 372.5L494.2 376.4L493.3 378.7L491.4 385.0L489.9 391.2L488.7 397.4L488.0 403.2L487.9 403.6L487.7 409.8L487.9 416.0L488.0 416.4L488.9 422.2L490.9 428.4L494.1 434.6L494.2 434.7L500.4 440.3L501.5 440.8ZM103.9 385.7L110.1 386.2L116.3 385.3L117.3 385.0L122.5 383.0L128.7 379.2L129.1 378.7L134.8 373.0L135.2 372.5L139.0 366.3L141.0 361.8L141.7 360.1L143.0 353.9L143.3 347.7L142.6 341.5L141.0 336.7L140.5 335.3L136.7 329.1L134.8 326.9L130.4 322.9L128.7 321.7L122.5 318.6L116.3 316.9L113.6 316.7L110.1 316.5L108.1 316.7L103.9 317.3L97.7 319.3L91.5 322.7L91.1 322.9L85.3 328.3L84.5 329.1L80.5 335.3L79.1 338.6L78.0 341.5L76.8 347.7L76.7 353.9L77.7 360.1L79.1 364.3L79.9 366.3L83.5 372.5L85.3 374.8L89.3 378.7L91.5 380.5L97.7 383.9L101.0 385.0Z"/>
<path fill="#0606fc" d="M209.2 685.1L211.5 688.8L215.4 688.8L221.6 688.8L227.8 688.8L234.0 688.8L240.2 688.8L240.2 688.8L243.4 682.6L244.3 676.4L243.0 670.2L240.2 665.1L239.2 664.0L234.0 660.3L227.8 658.5L221.6 659.2L215.4 662.1L213.2 664.0L209.2 669.3L208.7 670.2L207.4 676.4L208.1 682.6ZM543.7 685.1L548.3 688.8L549.9 688.8L556.1 688.8L562.3 688.8L568.5 688.8L574.7 688.8L574.7 688.8L580.7 682.6L580.9 682.3L583.6 676.4L584.9 670.2L584.9 664.0L583.6 657.8L581.4 651.6L580.9 650.5L577.8 645.4L574.7 640.8L573.3 639.2L568.5 633.8L567.5 633.0L562.3 628.1L560.3 626.8L556.1 623.0L551.7 620.6L549.9 618.5L543.7 615.3L541.8 620.6L539.1 626.8L537.5 630.5L536.9 633.0L535.4 639.2L534.1 645.4L533.4 651.6L533.2 657.8L533.8 664.0L535.1 670.2L537.4 676.4L537.5 676.6L541.5 682.6ZM413.6 616.3L419.8 619.0L426.0 620.2L432.2 620.0L438.4 618.5L444.6 616.1L447.9 614.4L450.8 612.5L456.6 608.2L457.0 607.8L463.0 602.0L463.2 601.7L468.2 595.8L469.4 593.6L472.7 589.6L475.2 583.4L469.4 577.7L468.9 577.2L463.2 575.3L457.0 573.3L450.8 571.8L445.7 571.0L444.6 570.9L438.4 570.6L433.2 571.0L432.2 571.1L426.0 572.5L419.8 575.0L416.2 577.2L413.6 579.1L409.4 583.4L407.4 586.3L405.7 589.6L404.0 595.8L404.0 602.0L406.0 608.2L407.4 610.3L411.1 614.4ZM537.5 610.6L543.7 612.7L544.4 608.2L546.5 602.0L548.5 595.8L549.8 589.6L549.9 588.8L550.3 583.4L550.0 577.2L549.9 576.7L548.6 571.0L546.0 564.8L543.7 561.1L541.8 558.6L537.5 554.4L534.8 552.4L531.3 550.3L525.1 548.0L518.9 547.3L512.7 548.3L506.5 550.9L504.1 552.4L500.4 555.5L496.9 558.6L494.2 562.1L491.6 564.8L488.0 570.4L487.4 571.0L484.0 577.2L488.0 582.3L488.7 583.4L494.2 586.1L500.1 589.6L500.4 589.7L506.5 592.9L511.8 595.8L512.7 596.3L518.9 599.7L523.2 602.0L525.1 603.2L531.3 606.8L534.8 608.2ZM506.5 430.0L512.7 431.4L518.9 430.6L524.5 428.4L525.1 428.1L531.3 424.0L533.5 422.2L537.5 418.4L539.7 416.0L543.7 410.8L544.4 409.8L547.8 403.6L549.9 398.6L550.4 397.4L552.0 391.2L552.7 385.0L552.7 378.7L551.8 372.5L549.9 366.6L549.8 366.3L546.0 360.1L543.7 357.4L538.9 353.9L537.5 353.1L531.3 351.5L525.1 351.9L519.6 353.9L518.9 354.2L512.7 358.7L511.4 360.1L506.5 365.9L506.2 366.3L502.7 372.5L500.4 377.4L499.8 378.7L497.8 385.0L496.2 391.2L495.1 397.4L494.7 403.6L495.0 409.8L496.2 416.0L498.6 422.2L500.4 425.0L504.0 428.4ZM103.9 367.8L110.1 368.9L116.3 367.8L118.8 366.3L122.5 363.5L125.0 360.1L127.5 353.9L127.6 347.7L125.3 341.5L122.5 337.9L118.9 335.3L116.3 334.1L110.1 333.3L103.9 334.6L102.6 335.3L97.7 339.4L96.0 341.5L93.6 347.7L93.4 353.9L95.5 360.1L97.7 363.2L101.4 366.3Z"/>
<path fill="#3c00e0" d="M512.7 418.8L518.9 419.4L525.1 417.5L527.5 416.0L531.3 413.3L534.8 409.8L537.5 406.4L539.4 403.6L542.4 397.4L543.7 393.1L544.2 391.2L544.8 385.0L544.3 378.7L543.7 376.7L542.0 372.5L537.5 366.3L537.5 366.3L531.3 363.3L525.1 363.3L518.9 365.8L518.2 366.3L512.7 371.4L511.9 372.5L508.0 378.7L506.5 381.9L505.4 385.0L503.8 391.2L503.0 397.4L503.2 403.6L504.5 409.8L506.5 414.0L508.4 416.0Z"/>
<path fill="#5400a2" d="M518.9 401.5L525.1 401.1L528.8 397.4L531.3 393.0L531.9 391.2L531.7 385.0L531.3 384.2L525.1 380.3L518.9 384.0L518.3 385.0L516.1 391.2L516.3 397.4Z"/>
</g>
<clipPath id="pc"><rect x="72.9" y="74.9" width="613.3" height="613.9"/></clipPath>
<g id="markers" fill="#000" stroke="none" clip-path="url(#pc)">
<defs>
<clipPath id="nc0"><path clip-rule="evenodd" d="M0 0H840V752H0ZM127.25 134.0a7.85 7.85 0 1 0 15.70 0a7.85 7.85 0 1 0 -15.70 0Z"/></clipPath>
<clipPath id="nd7"><path clip-rule="evenodd" d="M0 0H840V752H0ZM165.6 196.0L173.1 208.4L165.6 220.8L158.1 208.4Z"/></clipPath>
<clipPath id="nc3"><path clip-rule="evenodd" d="M0 0H840V752H0ZM261.75 115.9a7.85 7.85 0 1 0 15.70 0a7.85 7.85 0 1 0 -15.70 0Z"/></clipPath>
<clipPath id="nd10"><path clip-rule="evenodd" d="M0 0H840V752H0ZM258.6 143.5L266.1 155.9L258.6 168.3L251.1 155.9Z"/></clipPath>
<clipPath id="nd12"><path clip-rule="evenodd" d="M0 0H840V752H0ZM289.4 180.7L296.9 193.1L289.4 205.5L281.9 193.1Z"/></clipPath>
<clipPath id="nd18"><path clip-rule="evenodd" d="M0 0H840V752H0ZM469.6 111.6L477.1 124.0L469.6 136.4L462.1 124.0Z"/></clipPath>
<clipPath id="nd92"><path clip-rule="evenodd" d="M0 0H840V752H0ZM531.5 191.6L539.0 204.0L531.5 216.4L524.0 204.0Z"/></clipPath>
<clipPath id="nd27"><path clip-rule="evenodd" d="M0 0H840V752H0ZM549.8 141.8L557.3 154.2L549.8 166.6L542.3 154.2Z"/></clipPath>
<clipPath id="nd15"><path clip-rule="evenodd" d="M0 0H840V752H0ZM345.4 205.6L352.9 218.0L345.4 230.4L337.9 218.0Z"/></clipPath>
<clipPath id="nd33"><path clip-rule="evenodd" d="M0 0H840V752H0ZM240.0 291.3L247.5 303.7L240.0 316.1L232.5 303.7Z"/></clipPath>
<clipPath id="nd43"><path clip-rule="evenodd" d="M0 0H840V752H0ZM580.7 238.2L588.2 250.6L580.7 263.0L573.2 250.6Z"/></clipPath>
<clipPath id="nc34"><path clip-rule="evenodd" d="M0 0H840V752H0ZM530.25 345.0a7.85 7.85 0 1 0 15.70 0a7.85 7.85 0 1 0 -15.70 0Z"/></clipPath>
<clipPath id="nd32"><path clip-rule="evenodd" d="M0 0H840V752H0ZM159.6 355.6L167.1 368.0L159.6 380.4L152.1 368.0Z"/></clipPath>
<clipPath id="nd68"><path clip-rule="evenodd" d="M0 0H840V752H0ZM91.1 509.9L98.6 522.3L91.1 534.7L83.6 522.3Z"/></clipPath>
<clipPath id="nc68"><path clip-rule="evenodd" d="M0 0H840V752H0ZM591.95 419.1a7.85 7.85 0 1 0 15.70 0a7.85 7.85 0 1 0 -15.70 0Z"/></clipPath>
<clipPath id="nd73"><path clip-rule="evenodd" d="M0 0H840V752H0ZM202.2 584.7L209.7 597.1L202.2 609.5L194.7 597.1Z"/></clipPath>
<clipPath id="nd80"><path clip-rule="evenodd" d="M0 0H840V752H0ZM339.4 565.8L346.9 578.2L339.4 590.6L331.9 578.2Z"/></clipPath>
<clipPath id="nc90"><path clip-rule="evenodd" d="M0 0H840V752H0ZM622.15 602.7a7.85 7.85 0 1 0 15.70 0a7.85 7.85 0 1 0 -15.70 0Z"/></clipPath>
<clipPath id="nc91"><path clip-rule="evenodd" d="M0 0H840V752H0ZM655.15 601.6a7.85 7.85 0 1 0 15.70 0a7.85 7.85 0 1 0 -15.70 0Z"/></clipPath>
<clipPath id="nd91"><path clip-rule="evenodd" d="M0 0H840V752H0ZM270.3 202.4L277.8 214.8L270.3 227.2L262.8 214.8Z"/></clipPath>
</defs>
<g opacity="0.5">
<circle cx="135.1" cy="134.0" r="7.85"/>
<circle cx="116.0" cy="179.7" r="7.85"/>
<g clip-path="url(#nd7)"><circle cx="158.6" cy="209.1" r="7.85"/></g>
<circle cx="269.6" cy="115.9" r="7.85"/>
<circle cx="320.3" cy="110.6" r="7.85"/>
<circle cx="363.9" cy="139.3" r="7.85"/>
<g clip-path="url(#nd10)"><circle cx="251.1" cy="155.7" r="7.85"/></g>
<g clip-path="url(#nd12)"><circle cx="296.9" cy="191.8" r="7.85"/></g>
<circle cx="234.1" cy="214.4" r="7.85"/>
<g clip-path="url(#nd18)"><circle cx="456.4" cy="127.1" r="7.85"/></g>
<circle cx="494.1" cy="132.5" r="7.85"/>
<circle cx="512.8" cy="141.4" r="7.85"/>
<g clip-path="url(#nd92)"><circle cx="523.4" cy="214.8" r="7.85"/></g>
<circle cx="543.9" cy="90.3" r="7.85"/>
<g clip-path="url(#nd27)"><circle cx="549.8" cy="138.9" r="7.85"/></g>
<circle cx="680.0" cy="112.0" r="7.85"/>
<circle cx="673.9" cy="160.1" r="7.85"/>
<circle cx="648.8" cy="171.6" r="7.85"/>
<circle cx="562.2" cy="216.3" r="7.85"/>
<circle cx="574.3" cy="226.5" r="7.85"/>
<circle cx="190.5" cy="225.0" r="7.85"/>
<circle cx="109.6" cy="337.6" r="7.85"/>
<g clip-path="url(#nd15)"><circle cx="338.3" cy="231.8" r="7.85"/></g>
<circle cx="352.2" cy="234.6" r="7.85"/>
<circle cx="221.3" cy="249.5" r="7.85"/>
<g clip-path="url(#nd33)"><circle cx="240.0" cy="287.8" r="7.85"/></g>
<circle cx="370.3" cy="299.5" r="7.85"/>
<circle cx="407.5" cy="245.0" r="7.85"/>
<circle cx="475.6" cy="240.8" r="7.85"/>
<circle cx="432.0" cy="269.7" r="7.85"/>
<circle cx="450.7" cy="350.3" r="7.85"/>
<circle cx="426.0" cy="356.7" r="7.85"/>
<circle cx="506.4" cy="322.7" r="7.85"/>
<g clip-path="url(#nd43)"><circle cx="587.1" cy="250.6" r="7.85"/></g>
<circle cx="538.1" cy="345.0" r="7.85"/>
<circle cx="605.6" cy="340.3" r="7.85"/>
<circle cx="683.9" cy="328.6" r="7.85"/>
<circle cx="84.7" cy="382.5" r="7.85"/>
<g clip-path="url(#nd32)"><circle cx="152.8" cy="376.1" r="7.85"/></g>
<circle cx="196.4" cy="465.9" r="7.85"/>
<circle cx="97.5" cy="469.7" r="7.85"/>
<circle cx="128.3" cy="477.6" r="7.85"/>
<circle cx="122.4" cy="486.7" r="7.85"/>
<circle cx="140.9" cy="480.1" r="7.85"/>
<circle cx="78.8" cy="487.8" r="7.85"/>
<circle cx="146.9" cy="512.0" r="7.85"/>
<circle cx="177.7" cy="508.4" r="7.85"/>
<g clip-path="url(#nd68)"><circle cx="91.5" cy="509.5" r="7.85"/></g>
<circle cx="258.6" cy="380.1" r="7.85"/>
<circle cx="333.0" cy="384.6" r="7.85"/>
<circle cx="245.8" cy="395.7" r="7.85"/>
<circle cx="289.4" cy="415.9" r="7.85"/>
<circle cx="227.3" cy="443.5" r="7.85"/>
<circle cx="283.4" cy="448.4" r="7.85"/>
<circle cx="357.9" cy="480.3" r="7.85"/>
<circle cx="326.6" cy="497.8" r="7.85"/>
<circle cx="482.0" cy="376.5" r="7.85"/>
<circle cx="489.4" cy="376.5" r="7.85"/>
<circle cx="518.8" cy="386.1" r="7.85"/>
<circle cx="500.5" cy="402.0" r="7.85"/>
<circle cx="376.2" cy="394.6" r="7.85"/>
<circle cx="401.1" cy="390.3" r="7.85"/>
<circle cx="395.1" cy="415.2" r="7.85"/>
<circle cx="444.3" cy="419.7" r="7.85"/>
<circle cx="463.2" cy="451.6" r="7.85"/>
<circle cx="382.4" cy="507.4" r="7.85"/>
<circle cx="617.9" cy="388.2" r="7.85"/>
<circle cx="667.9" cy="404.8" r="7.85"/>
<circle cx="599.8" cy="419.1" r="7.85"/>
<circle cx="593.0" cy="450.6" r="7.85"/>
<circle cx="611.5" cy="458.4" r="7.85"/>
<circle cx="202.8" cy="559.5" r="7.85"/>
<circle cx="103.7" cy="592.9" r="7.85"/>
<g clip-path="url(#nd73)"><circle cx="215.6" cy="596.7" r="7.85"/></g>
<circle cx="184.1" cy="635.0" r="7.85"/>
<circle cx="209.0" cy="639.3" r="7.85"/>
<circle cx="171.7" cy="664.8" r="7.85"/>
<circle cx="164.9" cy="674.4" r="7.85"/>
<g clip-path="url(#nd80)"><circle cx="346.4" cy="579.1" r="7.85"/></g>
<circle cx="308.1" cy="593.5" r="7.85"/>
<circle cx="314.3" cy="635.7" r="7.85"/>
<circle cx="302.2" cy="671.2" r="7.85"/>
<circle cx="388.8" cy="601.6" r="7.85"/>
<circle cx="438.3" cy="594.0" r="7.85"/>
<circle cx="469.6" cy="603.7" r="7.85"/>
<circle cx="413.4" cy="639.7" r="7.85"/>
<circle cx="556.2" cy="547.1" r="7.85"/>
<circle cx="580.7" cy="537.8" r="7.85"/>
<circle cx="655.1" cy="568.4" r="7.85"/>
<circle cx="568.3" cy="579.1" r="7.85"/>
<circle cx="630.0" cy="602.7" r="7.85"/>
<circle cx="663.0" cy="601.6" r="7.85"/>
<circle cx="624.3" cy="624.0" r="7.85"/>
<circle cx="636.0" cy="649.9" r="7.85"/>
<g clip-path="url(#nd91)"><circle cx="278.8" cy="221.0" r="7.85"/></g>
<circle cx="264.5" cy="686.0" r="7.85"/>
<circle cx="531.0" cy="685.5" r="7.85"/>
</g>
<g opacity="0.6">
<path d="M140.5 99.9L148.0 112.3L140.5 124.7L133.0 112.3Z"/>
<path d="M147.1 110.1L154.6 122.5L147.1 134.9L139.6 122.5Z"/>
<g clip-path="url(#nc0)"><path d="M128.3 117.9L135.8 130.3L128.3 142.7L120.8 130.3Z"/></g>
<path d="M72.4 115.8L79.9 128.2L72.4 140.6L64.9 128.2Z"/>
<path d="M221.3 67.9L228.8 80.3L221.3 92.7L213.8 80.3Z"/>
<path d="M178.1 156.7L185.6 169.1L178.1 181.5L170.6 169.1Z"/>
<path d="M196.4 153.9L203.9 166.3L196.4 178.7L188.9 166.3Z"/>
<path d="M165.6 196.0L173.1 208.4L165.6 220.8L158.1 208.4Z"/>
<g clip-path="url(#nc3)"><path d="M277.7 97.5L285.2 109.9L277.7 122.3L270.2 109.9Z"/></g>
<path d="M351.5 91.8L359.0 104.2L351.5 116.6L344.0 104.2Z"/>
<path d="M258.6 143.5L266.1 155.9L258.6 168.3L251.1 155.9Z"/>
<path d="M283.7 147.7L291.2 160.1L283.7 172.5L276.2 160.1Z"/>
<path d="M289.4 180.7L296.9 193.1L289.4 205.5L281.9 193.1Z"/>
<path d="M264.5 186.9L272.0 199.3L264.5 211.7L257.0 199.3Z"/>
<path d="M363.9 190.7L371.4 203.1L363.9 215.5L356.4 203.1Z"/>
<path d="M345.4 205.6L352.9 218.0L345.4 230.4L337.9 218.0Z"/>
<path d="M426.2 88.2L433.7 100.6L426.2 113.0L418.7 100.6Z"/>
<path d="M438.3 92.4L445.8 104.8L438.3 117.2L430.8 104.8Z"/>
<path d="M469.6 111.6L477.1 124.0L469.6 136.4L462.1 124.0Z"/>
<path d="M518.8 97.5L526.3 109.9L518.8 122.3L511.3 109.9Z"/>
<path d="M512.8 150.7L520.3 163.1L512.8 175.5L505.3 163.1Z"/>
<path d="M413.4 143.5L420.9 155.9L413.4 168.3L405.9 155.9Z"/>
<path d="M382.6 150.7L390.1 163.1L382.6 175.5L375.1 163.1Z"/>
<path d="M463.2 162.0L470.7 174.4L463.2 186.8L455.7 174.4Z"/>
<path d="M407.5 200.3L415.0 212.7L407.5 225.1L400.0 212.7Z"/>
<path d="M481.5 197.1L489.0 209.5L481.5 221.9L474.0 209.5Z"/>
<path d="M562.2 105.0L569.7 117.4L562.2 129.8L554.7 117.4Z"/>
<path d="M549.8 141.8L557.3 154.2L549.8 166.6L542.3 154.2Z"/>
<path d="M184.5 231.1L192.0 243.5L184.5 255.9L177.0 243.5Z"/>
<path d="M122.4 283.7L129.9 296.1L122.4 308.5L114.9 296.1Z"/>
<path d="M153.2 309.2L160.7 321.6L153.2 334.0L145.7 321.6Z"/>
<path d="M97.9 351.8L105.4 364.2L97.9 376.6L90.4 364.2Z"/>
<path d="M159.6 355.6L167.1 368.0L159.6 380.4L152.1 368.0Z"/>
<path d="M240.0 291.3L247.5 303.7L240.0 316.1L232.5 303.7Z"/>
<path d="M227.7 315.2L235.2 327.6L227.7 340.0L220.2 327.6Z"/>
<path d="M314.3 354.5L321.8 366.9L314.3 379.3L306.8 366.9Z"/>
<path d="M450.7 243.3L458.2 255.7L450.7 268.1L443.2 255.7Z"/>
<path d="M457.1 309.2L464.6 321.6L457.1 334.0L449.6 321.6Z"/>
<path d="M394.7 321.6L402.2 334.0L394.7 346.4L387.2 334.0Z"/>
<path d="M488.3 326.2L495.8 338.6L488.3 351.0L480.8 338.6Z"/>
<path d="M495.4 338.6L502.9 351.0L495.4 363.4L487.9 351.0Z"/>
<path d="M506.4 345.0L513.9 357.4L506.4 369.8L498.9 357.4Z"/>
<path d="M556.2 227.9L563.7 240.3L556.2 252.7L548.7 240.3Z"/>
<path d="M580.7 238.2L588.2 250.6L580.7 263.0L573.2 250.6Z"/>
<path d="M605.6 252.8L613.1 265.2L605.6 277.6L598.1 265.2Z"/>
<path d="M630.7 269.4L638.2 281.8L630.7 294.2L623.2 281.8Z"/>
<path d="M637.1 264.7L644.6 277.1L637.1 289.5L629.6 277.1Z"/>
<g clip-path="url(#nc34)"><path d="M543.4 315.2L550.9 327.6L543.4 340.0L535.9 327.6Z"/></g>
<path d="M648.8 319.4L656.3 331.8L648.8 344.2L641.3 331.8Z"/>
<path d="M661.5 319.0L669.0 331.4L661.5 343.8L654.0 331.4Z"/>
<path d="M85.1 393.5L92.6 405.9L85.1 418.3L77.6 405.9Z"/>
<path d="M171.7 417.9L179.2 430.3L171.7 442.7L164.2 430.3Z"/>
<path d="M357.5 374.3L365.0 386.7L357.5 399.1L350.0 386.7Z"/>
<path d="M326.6 409.9L334.1 422.3L326.6 434.7L319.1 422.3Z"/>
<path d="M246.2 417.9L253.7 430.3L246.2 442.7L238.7 430.3Z"/>
<path d="M320.3 466.2L327.8 478.6L320.3 491.0L312.8 478.6Z"/>
<path d="M419.8 385.4L427.3 397.8L419.8 410.2L412.3 397.8Z"/>
<path d="M444.7 435.8L452.2 448.2L444.7 460.6L437.2 448.2Z"/>
<path d="M388.8 449.9L396.3 462.3L388.8 474.7L381.3 462.3Z"/>
<path d="M432.4 471.1L439.9 483.5L432.4 495.9L424.9 483.5Z"/>
<path d="M401.1 486.9L408.6 499.3L401.1 511.7L393.6 499.3Z"/>
<g clip-path="url(#nc68)"><path d="M593.4 410.9L600.9 423.3L593.4 435.7L585.9 423.3Z"/></g>
<path d="M568.3 418.8L575.8 431.2L568.3 443.6L560.8 431.2Z"/>
<path d="M587.1 462.0L594.6 474.4L587.1 486.8L579.6 474.4Z"/>
<path d="M574.7 471.1L582.2 483.5L574.7 495.9L567.2 483.5Z"/>
<path d="M599.4 492.4L606.9 504.8L599.4 517.2L591.9 504.8Z"/>
<path d="M612.2 496.7L619.7 509.1L612.2 521.5L604.7 509.1Z"/>
<path d="M673.2 506.7L680.7 519.1L673.2 531.5L665.7 519.1Z"/>
<path d="M91.1 509.9L98.6 522.3L91.1 534.7L83.6 522.3Z"/>
<path d="M103.7 520.1L111.2 532.5L103.7 544.9L96.2 532.5Z"/>
<path d="M116.0 528.6L123.5 541.0L116.0 553.4L108.5 541.0Z"/>
<path d="M190.5 555.6L198.0 568.0L190.5 580.4L183.0 568.0Z"/>
<path d="M134.5 572.6L142.0 585.0L134.5 597.4L127.0 585.0Z"/>
<path d="M202.2 584.7L209.7 597.1L202.2 609.5L194.7 597.1Z"/>
<path d="M109.6 608.8L117.1 621.2L109.6 633.6L102.1 621.2Z"/>
<path d="M79.2 616.9L86.7 629.3L79.2 641.7L71.7 629.3Z"/>
<path d="M302.8 509.9L310.3 522.3L302.8 534.7L295.3 522.3Z"/>
<path d="M296.4 520.1L303.9 532.5L296.4 544.9L288.9 532.5Z"/>
<path d="M308.1 542.2L315.6 554.6L308.1 567.0L300.6 554.6Z"/>
<path d="M333.4 552.4L340.9 564.8L333.4 577.2L325.9 564.8Z"/>
<path d="M339.4 565.8L346.9 578.2L339.4 590.6L331.9 578.2Z"/>
<path d="M252.2 597.1L259.7 609.5L252.2 621.9L244.7 609.5Z"/>
<path d="M370.3 615.6L377.8 628.0L370.3 640.4L362.8 628.0Z"/>
<path d="M500.5 592.4L508.0 604.8L500.5 617.2L493.0 604.8Z"/>
<path d="M376.2 660.5L383.7 672.9L376.2 685.3L368.7 672.9Z"/>
<path d="M624.3 538.6L631.8 551.0L624.3 563.4L616.8 551.0Z"/>
<path d="M617.9 547.1L625.4 559.5L617.9 571.9L610.4 559.5Z"/>
<g clip-path="url(#nc91)"><path d="M667.9 574.1L675.4 586.5L667.9 598.9L660.4 586.5Z"/></g>
<g clip-path="url(#nc90)"><path d="M642.4 592.8L649.9 605.2L642.4 617.6L634.9 605.2Z"/></g>
<g clip-path="url(#nc91)"><path d="M655.6 595.0L663.1 607.4L655.6 619.8L648.1 607.4Z"/></g>
<path d="M680.0 644.3L687.5 656.7L680.0 669.1L672.5 656.7Z"/>
<path d="M270.3 202.4L277.8 214.8L270.3 227.2L262.8 214.8Z"/>
<path d="M531.5 191.6L539.0 204.0L531.5 216.4L524.0 204.0Z"/>
<path d="M525.0 318.6L532.5 331.0L525.0 343.4L517.5 331.0Z"/>
<path d="M686.0 487.5L693.5 499.9L686.0 512.3L678.5 499.9Z"/>
<path d="M537.5 531.1L545.0 543.5L537.5 555.9L530.0 543.5Z"/>
<path d="M215.2 651.6L222.7 664.0L215.2 676.4L207.7 664.0Z"/>
<path d="M208.4 658.6L215.9 671.0L208.4 683.4L200.9 671.0Z"/>
<path d="M234.0 662.2L241.5 674.6L234.0 687.0L226.5 674.6Z"/>
<path d="M475.5 670.1L483.0 682.5L475.5 694.9L468.0 682.5Z"/>
</g>
</g>
<g id="frame" fill="none" stroke="#000" stroke-linecap="butt">
<rect x="72.9" y="74.9" width="613.3" height="613.9" stroke-width="2"/>
<path stroke-width="2" d="M72.9 688.8V705.8M72.9 74.9V57.9M72.9 688.8H55.9M686.2 688.8H703.2"/>
<path stroke-width="1.1" d="M103.9 688.8V697.3M103.9 74.9V66.4M72.9 657.8H64.4M686.2 657.8H694.7"/>
<path stroke-width="1.1" d="M134.8 688.8V697.3M134.8 74.9V66.4M72.9 626.8H64.4M686.2 626.8H694.7"/>
<path stroke-width="1.1" d="M165.8 688.8V697.3M165.8 74.9V66.4M72.9 595.8H64.4M686.2 595.8H694.7"/>
<path stroke-width="2" d="M196.8 688.8V705.8M196.8 74.9V57.9M72.9 564.8H55.9M686.2 564.8H703.2"/>
<path stroke-width="1.1" d="M227.8 688.8V697.3M227.8 74.9V66.4M72.9 533.8H64.4M686.2 533.8H694.7"/>
<path stroke-width="1.1" d="M258.7 688.8V697.3M258.7 74.9V66.4M72.9 502.8H64.4M686.2 502.8H694.7"/>
<path stroke-width="1.1" d="M289.7 688.8V697.3M289.7 74.9V66.4M72.9 471.8H64.4M686.2 471.8H694.7"/>
<path stroke-width="2" d="M320.7 688.8V705.8M320.7 74.9V57.9M72.9 440.8H55.9M686.2 440.8H703.2"/>
<path stroke-width="1.1" d="M351.7 688.8V697.3M351.7 74.9V66.4M72.9 409.8H64.4M686.2 409.8H694.7"/>
<path stroke-width="1.1" d="M382.6 688.8V697.3M382.6 74.9V66.4M72.9 378.7H64.4M686.2 378.7H694.7"/>
<path stroke-width="1.1" d="M413.6 688.8V697.3M413.6 74.9V66.4M72.9 347.7H64.4M686.2 347.7H694.7"/>
<path stroke-width="2" d="M444.6 688.8V705.8M444.6 74.9V57.9M72.9 316.7H55.9M686.2 316.7H703.2"/>
<path stroke-width="1.1" d="M475.6 688.8V697.3M475.6 74.9V66.4M72.9 285.7H64.4M686.2 285.7H694.7"/>
<path stroke-width="1.1" d="M506.5 688.8V697.3M506.5 74.9V66.4M72.9 254.7H64.4M686.2 254.7H694.7"/>
<path stroke-width="1.1" d="M537.5 688.8V697.3M537.5 74.9V66.4M72.9 223.7H64.4M686.2 223.7H694.7"/>
<path stroke-width="2" d="M568.5 688.8V705.8M568.5 74.9V57.9M72.9 192.7H55.9M686.2 192.7H703.2"/>
<path stroke-width="1.1" d="M599.5 688.8V697.3M599.5 74.9V66.4M72.9 161.7H64.4M686.2 161.7H694.7"/>
<path stroke-width="1.1" d="M630.4 688.8V697.3M630.4 74.9V66.4M72.9 130.7H64.4M686.2 130.7H694.7"/>
<path stroke-width="1.1" d="M661.4 688.8V697.3M661.4 74.9V66.4M72.9 99.7H64.4M686.2 99.7H694.7"/>
</g>
<g id="colorbar" stroke="#000" stroke-width="1">
<rect x="727.9" y="81.30" width="36.4" height="37.57" fill="#ff0000"/>
<rect x="727.9" y="118.87" width="36.4" height="37.57" fill="#ff4e00"/>
<rect x="727.9" y="156.44" width="36.4" height="37.57" fill="#ff9c00"/>
<rect x="727.9" y="194.01" width="36.4" height="37.57" fill="#ffea00"/>
<rect x="727.9" y="231.58" width="36.4" height="37.57" fill="#c6ff00"/>
<rect x="727.9" y="269.15" width="36.4" height="37.57" fill="#78ff00"/>
<rect x="727.9" y="306.72" width="36.4" height="37.57" fill="#2aff00"/>
<rect x="727.9" y="344.29" width="36.4" height="37.57" fill="#00ff23"/>
<rect x="727.9" y="381.86" width="36.4" height="37.57" fill="#00ff71"/>
<rect x="727.9" y="419.43" width="36.4" height="37.57" fill="#00ffbf"/>
<rect x="727.9" y="457.00" width="36.4" height="37.57" fill="#00f1ff"/>
<rect x="727.9" y="494.57" width="36.4" height="37.57" fill="#05a8fc"/>
<rect x="727.9" y="532.14" width="36.4" height="37.57" fill="#0a5ffa"/>
<rect x="727.9" y="569.71" width="36.4" height="37.57" fill="#0606fc"/>
<rect x="727.9" y="607.28" width="36.4" height="37.57" fill="#3c00e0"/>
<rect x="727.9" y="644.85" width="36.4" height="37.57" fill="#5400a2"/>
</g>
<g id="labels" font-family="Liberation Sans, Arial, Helvetica, sans-serif" font-size="28.8" fill="#000">
<text transform="translate(378.6 29.3) scale(1.026 1.000)" text-anchor="middle" font-size="34">Opaque markers</text>
<text transform="translate(72.9 745.7) scale(0.972 1.000)" text-anchor="middle">0</text>
<text transform="translate(36.6 698.6) scale(0.972 1.000)" text-anchor="end">0</text>
<text transform="translate(196.8 745.7) scale(0.972 1.000)" text-anchor="middle">20</text>
<text transform="translate(36.6 574.6) scale(0.972 1.000)" text-anchor="end">20</text>
<text transform="translate(320.7 745.7) scale(0.972 1.000)" text-anchor="middle">40</text>
<text transform="translate(36.6 450.6) scale(0.972 1.000)" text-anchor="end">40</text>
<text transform="translate(444.6 745.7) scale(0.972 1.000)" text-anchor="middle">60</text>
<text transform="translate(36.6 326.5) scale(0.972 1.000)" text-anchor="end">60</text>
<text transform="translate(568.5 745.7) scale(0.972 1.000)" text-anchor="middle">80</text>
<text transform="translate(36.6 202.5) scale(0.972 1.000)" text-anchor="end">80</text>
<text transform="translate(806.0 128.7) scale(0.972 1.000)" text-anchor="middle">12.5</text>
<text transform="translate(806.0 166.2) scale(0.972 1.000)" text-anchor="middle">10</text>
<text transform="translate(806.0 203.8) scale(0.972 1.000)" text-anchor="middle">7.5</text>
<text transform="translate(806.0 241.4) scale(0.972 1.000)" text-anchor="middle">5</text>
<text transform="translate(806.0 278.9) scale(0.972 1.000)" text-anchor="middle">2.5</text>
<text transform="translate(806.0 316.5) scale(0.972 1.000)" text-anchor="middle">0</text>
<text transform="translate(806.0 354.1) scale(0.972 1.000)" text-anchor="middle">-2.5</text>
<text transform="translate(806.0 391.7) scale(0.972 1.000)" text-anchor="middle">-5</text>
<text transform="translate(806.0 429.2) scale(0.972 1.000)" text-anchor="middle">-7.5</text>
<text transform="translate(806.0 466.8) scale(0.972 1.000)" text-anchor="middle">-10</text>
<text transform="translate(806.0 504.4) scale(0.972 1.000)" text-anchor="middle">-12.5</text>
<text transform="translate(806.0 541.9) scale(0.972 1.000)" text-anchor="middle">-15</text>
<text transform="translate(806.0 579.5) scale(0.972 1.000)" text-anchor="middle">-17.5</text>
<text transform="translate(806.0 617.1) scale(0.972 1.000)" text-anchor="middle">-20</text>
<text transform="translate(806.0 654.6) scale(0.972 1.000)" text-anchor="middle">-22.5</text>
</g>
</svg>
</body></html>
